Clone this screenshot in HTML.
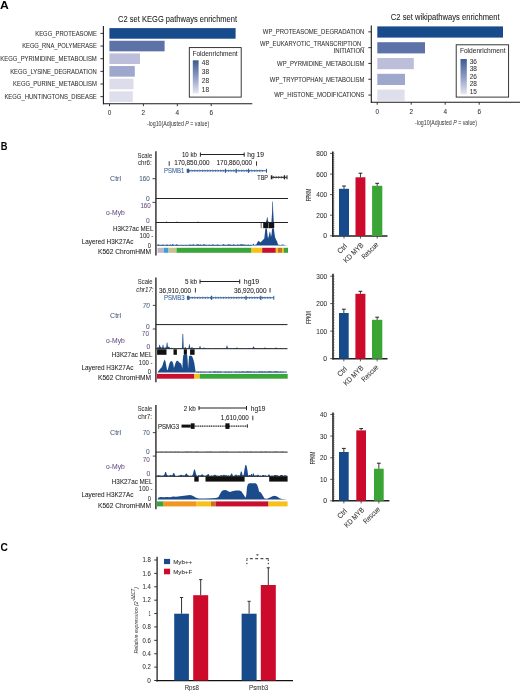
<!DOCTYPE html><html><head><meta charset="utf-8"><style>html,body{margin:0;padding:0;background:#fff;}svg{display:block;will-change:transform;}</style></head><body>
<svg width="520" height="691" viewBox="0 0 520 691" font-family='"Liberation Sans", sans-serif'>
<rect width="520" height="691" fill="#fff"/>
<text x="0" y="9.4" font-size="11.2" fill="#000" text-anchor="start" font-weight="bold" font-style="normal" textLength="8.8" lengthAdjust="spacingAndGlyphs">A</text>
<text x="0.8" y="149.6" font-size="11.4" fill="#000" text-anchor="start" font-weight="bold" font-style="normal" textLength="6.7" lengthAdjust="spacingAndGlyphs">B</text>
<text x="0.5" y="551.2" font-size="11.2" fill="#000" text-anchor="start" font-weight="bold" font-style="normal" textLength="7.4" lengthAdjust="spacingAndGlyphs">C</text>
<text x="118.1" y="21.9" font-size="8.2" fill="#222" text-anchor="start" font-weight="normal" font-style="normal" textLength="119" lengthAdjust="spacingAndGlyphs" stroke="#222" stroke-width="0.06">C2 set KEGG pathways enrichment</text>
<rect x="109.4" y="28.1" width="126.19999999999999" height="10.6" fill="#174b8b"/>
<text x="96.8" y="35.8" font-size="6.3" fill="#333" text-anchor="end" font-weight="normal" font-style="normal" textLength="61.5" lengthAdjust="spacingAndGlyphs" stroke="#333" stroke-width="0.06">KEGG_PROTEASOME</text>
<line x1="100.4" y1="33.4" x2="103.4" y2="33.4" stroke="#222" stroke-width="0.9"/>
<rect x="109.4" y="40.75" width="55.19999999999999" height="10.6" fill="#5d73a8"/>
<text x="96.8" y="48.0" font-size="6.3" fill="#333" text-anchor="end" font-weight="normal" font-style="normal" textLength="74.6" lengthAdjust="spacingAndGlyphs" stroke="#333" stroke-width="0.06">KEGG_RNA_POLYMERASE</text>
<line x1="100.4" y1="46.05" x2="103.4" y2="46.05" stroke="#222" stroke-width="0.9"/>
<rect x="109.4" y="53.400000000000006" width="30.599999999999994" height="10.6" fill="#bdbfda"/>
<text x="96.8" y="61.0" font-size="6.3" fill="#333" text-anchor="end" font-weight="normal" font-style="normal" textLength="96.5" lengthAdjust="spacingAndGlyphs" stroke="#333" stroke-width="0.06">KEGG_PYRIMIDINE_METABOLISM</text>
<line x1="100.4" y1="58.7" x2="103.4" y2="58.7" stroke="#222" stroke-width="0.9"/>
<rect x="109.4" y="66.05000000000001" width="25.400000000000006" height="10.6" fill="#9ea7cc"/>
<text x="96.8" y="73.6" font-size="6.3" fill="#333" text-anchor="end" font-weight="normal" font-style="normal" textLength="86.6" lengthAdjust="spacingAndGlyphs" stroke="#333" stroke-width="0.06">KEGG_LYSINE_DEGRADATION</text>
<line x1="100.4" y1="71.35000000000001" x2="103.4" y2="71.35000000000001" stroke="#222" stroke-width="0.9"/>
<rect x="109.4" y="78.7" width="24.099999999999994" height="10.6" fill="#dcdcea"/>
<text x="96.8" y="86.0" font-size="6.3" fill="#333" text-anchor="end" font-weight="normal" font-style="normal" textLength="83.7" lengthAdjust="spacingAndGlyphs" stroke="#333" stroke-width="0.06">KEGG_PURINE_METABOLISM</text>
<line x1="100.4" y1="84.0" x2="103.4" y2="84.0" stroke="#222" stroke-width="0.9"/>
<rect x="109.4" y="91.35" width="23.400000000000006" height="10.6" fill="#dedeec"/>
<text x="96.8" y="98.6" font-size="6.3" fill="#333" text-anchor="end" font-weight="normal" font-style="normal" textLength="92.4" lengthAdjust="spacingAndGlyphs" stroke="#333" stroke-width="0.06">KEGG_HUNTINGTONS_DISEASE</text>
<line x1="100.4" y1="96.64999999999999" x2="103.4" y2="96.64999999999999" stroke="#222" stroke-width="0.9"/>
<line x1="103.4" y1="26" x2="103.4" y2="104.3" stroke="#1a1a1a" stroke-width="1.1"/>
<line x1="103" y1="103.8" x2="252.3" y2="103.8" stroke="#1a1a1a" stroke-width="1.1"/>
<line x1="109.5" y1="103.8" x2="109.5" y2="106.2" stroke="#222" stroke-width="0.9"/>
<text x="109.5" y="115.2" font-size="6.4" fill="#333" text-anchor="middle" font-weight="normal" font-style="normal" stroke="#333" stroke-width="0.06">0</text>
<line x1="143.4" y1="103.8" x2="143.4" y2="106.2" stroke="#222" stroke-width="0.9"/>
<text x="143.4" y="115.2" font-size="6.4" fill="#333" text-anchor="middle" font-weight="normal" font-style="normal" stroke="#333" stroke-width="0.06">2</text>
<line x1="177.3" y1="103.8" x2="177.3" y2="106.2" stroke="#222" stroke-width="0.9"/>
<text x="177.3" y="115.2" font-size="6.4" fill="#333" text-anchor="middle" font-weight="normal" font-style="normal" stroke="#333" stroke-width="0.06">4</text>
<line x1="211.2" y1="103.8" x2="211.2" y2="106.2" stroke="#222" stroke-width="0.9"/>
<text x="211.2" y="115.2" font-size="6.4" fill="#333" text-anchor="middle" font-weight="normal" font-style="normal" stroke="#333" stroke-width="0.06">6</text>
<text x="146.9" y="126.4" font-size="6.3" fill="#333" textLength="62.3" lengthAdjust="spacingAndGlyphs">-log10(Adjusted <tspan font-style="italic">P</tspan> = value)</text>
<rect x="189.3" y="47.6" width="51.89999999999998" height="49.49999999999999" fill="#fff" stroke="#222" stroke-width="0.9"/>
<text x="192.4" y="55.6" font-size="6.7" fill="#333" text-anchor="start" font-weight="normal" font-style="normal" textLength="45.3" lengthAdjust="spacingAndGlyphs" stroke="#333" stroke-width="0.06">Foldenrichment</text>
<defs><linearGradient id="g189" x1="0" y1="0" x2="0" y2="1"><stop offset="0" stop-color="#3d5a8f"/><stop offset="0.5" stop-color="#8d9ac4"/><stop offset="1" stop-color="#e6e6f0"/></linearGradient></defs>
<rect x="192.8" y="60.3" width="5.799999999999983" height="33.0" fill="url(#g189)"/>
<text x="201.8" y="65.1" font-size="6.3" fill="#333" text-anchor="start" font-weight="normal" font-style="normal" textLength="7.2" lengthAdjust="spacingAndGlyphs" stroke="#333" stroke-width="0.06">48</text>
<text x="201.8" y="73.9" font-size="6.3" fill="#333" text-anchor="start" font-weight="normal" font-style="normal" textLength="7.2" lengthAdjust="spacingAndGlyphs" stroke="#333" stroke-width="0.06">38</text>
<text x="201.8" y="82.8" font-size="6.3" fill="#333" text-anchor="start" font-weight="normal" font-style="normal" textLength="7.2" lengthAdjust="spacingAndGlyphs" stroke="#333" stroke-width="0.06">28</text>
<text x="201.8" y="91.9" font-size="6.3" fill="#333" text-anchor="start" font-weight="normal" font-style="normal" textLength="7.2" lengthAdjust="spacingAndGlyphs" stroke="#333" stroke-width="0.06">18</text>
<text x="390.8" y="20.3" font-size="8.2" fill="#222" text-anchor="start" font-weight="normal" font-style="normal" textLength="108.9" lengthAdjust="spacingAndGlyphs" stroke="#222" stroke-width="0.06">C2 set wikipathways enrichment</text>
<rect x="377.3" y="26.4" width="125.69999999999999" height="11.2" fill="#174b8b"/>
<text x="364.4" y="34.0" font-size="6.3" fill="#333" text-anchor="end" font-weight="normal" font-style="normal" textLength="101.6" lengthAdjust="spacingAndGlyphs" stroke="#333" stroke-width="0.06">WP_PROTEASOME_DEGRADATION</text>
<line x1="368.3" y1="31.849999999999998" x2="371.3" y2="31.849999999999998" stroke="#222" stroke-width="0.9"/>
<rect x="377.3" y="42.2" width="47.69999999999999" height="11.2" fill="#5d73a8"/>
<text x="364.4" y="46.2" font-size="6.3" fill="#333" text-anchor="end" font-weight="normal" font-style="normal" textLength="104.4" lengthAdjust="spacingAndGlyphs" stroke="#333" stroke-width="0.06">WP_EUKARYOTIC_TRANSCRIPTION_</text>
<text x="364.4" y="53.3" font-size="6.3" fill="#333" text-anchor="end" font-weight="normal" font-style="normal" textLength="30.9" lengthAdjust="spacingAndGlyphs" stroke="#333" stroke-width="0.06">INITIATION</text>
<line x1="368.3" y1="47.650000000000006" x2="371.3" y2="47.650000000000006" stroke="#222" stroke-width="0.9"/>
<rect x="377.3" y="58.0" width="36.5" height="11.2" fill="#bdbfda"/>
<text x="364.4" y="66.0" font-size="6.3" fill="#333" text-anchor="end" font-weight="normal" font-style="normal" textLength="87.3" lengthAdjust="spacingAndGlyphs" stroke="#333" stroke-width="0.06">WP_PYRMIDINE_METABOLISM</text>
<line x1="368.3" y1="63.45" x2="371.3" y2="63.45" stroke="#222" stroke-width="0.9"/>
<rect x="377.3" y="73.80000000000001" width="27.69999999999999" height="11.2" fill="#9ea7cc"/>
<text x="364.4" y="81.5" font-size="6.3" fill="#333" text-anchor="end" font-weight="normal" font-style="normal" textLength="94.6" lengthAdjust="spacingAndGlyphs" stroke="#333" stroke-width="0.06">WP_TRYPTOPHAN_METABOLISM</text>
<line x1="368.3" y1="79.25000000000001" x2="371.3" y2="79.25000000000001" stroke="#222" stroke-width="0.9"/>
<rect x="377.3" y="89.6" width="27.30000000000001" height="11.2" fill="#dedeec"/>
<text x="364.4" y="97.1" font-size="6.3" fill="#333" text-anchor="end" font-weight="normal" font-style="normal" textLength="90.2" lengthAdjust="spacingAndGlyphs" stroke="#333" stroke-width="0.06">WP_HISTONE_MODIFICATIONS</text>
<line x1="368.3" y1="95.05" x2="371.3" y2="95.05" stroke="#222" stroke-width="0.9"/>
<line x1="371.3" y1="25.4" x2="371.3" y2="102.8" stroke="#1a1a1a" stroke-width="1.1"/>
<line x1="370.9" y1="102.3" x2="520" y2="102.3" stroke="#1a1a1a" stroke-width="1.1"/>
<line x1="377.2" y1="102.3" x2="377.2" y2="104.7" stroke="#222" stroke-width="0.9"/>
<text x="377.2" y="113.7" font-size="6.4" fill="#333" text-anchor="middle" font-weight="normal" font-style="normal" stroke="#333" stroke-width="0.06">0</text>
<line x1="411.2" y1="102.3" x2="411.2" y2="104.7" stroke="#222" stroke-width="0.9"/>
<text x="411.2" y="113.7" font-size="6.4" fill="#333" text-anchor="middle" font-weight="normal" font-style="normal" stroke="#333" stroke-width="0.06">2</text>
<line x1="445.2" y1="102.3" x2="445.2" y2="104.7" stroke="#222" stroke-width="0.9"/>
<text x="445.2" y="113.7" font-size="6.4" fill="#333" text-anchor="middle" font-weight="normal" font-style="normal" stroke="#333" stroke-width="0.06">4</text>
<line x1="479.2" y1="102.3" x2="479.2" y2="104.7" stroke="#222" stroke-width="0.9"/>
<text x="479.2" y="113.7" font-size="6.4" fill="#333" text-anchor="middle" font-weight="normal" font-style="normal" stroke="#333" stroke-width="0.06">6</text>
<text x="415" y="124.8" font-size="6.3" fill="#333" textLength="62" lengthAdjust="spacingAndGlyphs">-log10(Adjusted <tspan font-style="italic">P</tspan> = value)</text>
<rect x="456.2" y="44.8" width="52.400000000000034" height="52.3" fill="#fff" stroke="#222" stroke-width="0.9"/>
<text x="459.9" y="52.7" font-size="6.7" fill="#333" text-anchor="start" font-weight="normal" font-style="normal" textLength="45.6" lengthAdjust="spacingAndGlyphs" stroke="#333" stroke-width="0.06">Foldenrichment</text>
<defs><linearGradient id="g456" x1="0" y1="0" x2="0" y2="1"><stop offset="0" stop-color="#3d5a8f"/><stop offset="0.5" stop-color="#8d9ac4"/><stop offset="1" stop-color="#e6e6f0"/></linearGradient></defs>
<rect x="460.5" y="59" width="6.300000000000011" height="35.2" fill="url(#g456)"/>
<text x="469.7" y="63.6" font-size="6.3" fill="#333" text-anchor="start" font-weight="normal" font-style="normal" textLength="7.2" lengthAdjust="spacingAndGlyphs" stroke="#333" stroke-width="0.06">36</text>
<text x="469.7" y="71.4" font-size="6.3" fill="#333" text-anchor="start" font-weight="normal" font-style="normal" textLength="7.2" lengthAdjust="spacingAndGlyphs" stroke="#333" stroke-width="0.06">38</text>
<text x="469.7" y="79.0" font-size="6.3" fill="#333" text-anchor="start" font-weight="normal" font-style="normal" textLength="7.2" lengthAdjust="spacingAndGlyphs" stroke="#333" stroke-width="0.06">26</text>
<text x="469.7" y="86.4" font-size="6.3" fill="#333" text-anchor="start" font-weight="normal" font-style="normal" textLength="7.2" lengthAdjust="spacingAndGlyphs" stroke="#333" stroke-width="0.06">28</text>
<text x="469.7" y="94.2" font-size="6.3" fill="#333" text-anchor="start" font-weight="normal" font-style="normal" textLength="7.2" lengthAdjust="spacingAndGlyphs" stroke="#333" stroke-width="0.06">15</text>
<line x1="155.9" y1="151.2" x2="155.9" y2="255.4" stroke="#444" stroke-width="1.6"/>
<text x="152.2" y="157.5" font-size="6.8" fill="#333" text-anchor="end" font-weight="normal" font-style="normal" textLength="14.7" lengthAdjust="spacingAndGlyphs" stroke="#333" stroke-width="0.06">Scale</text>
<text x="151.6" y="165.3" font-size="6.8" fill="#333" text-anchor="end" font-weight="normal" font-style="normal" textLength="13.6" lengthAdjust="spacingAndGlyphs" stroke="#333" stroke-width="0.06">chr6:</text>
<text x="182" y="157.0" font-size="6.8" fill="#222" text-anchor="start" font-weight="normal" font-style="normal" textLength="14.8" lengthAdjust="spacingAndGlyphs" stroke="#222" stroke-width="0.06">10 kb</text>
<line x1="200.4" y1="154.5" x2="244.2" y2="154.5" stroke="#222" stroke-width="1.0"/>
<line x1="200.4" y1="152.5" x2="200.4" y2="156.7" stroke="#222" stroke-width="1.0"/>
<line x1="244.2" y1="152.5" x2="244.2" y2="156.7" stroke="#222" stroke-width="1.0"/>
<text x="247.3" y="157.0" font-size="6.8" fill="#222" text-anchor="start" font-weight="normal" font-style="normal" textLength="16.7" lengthAdjust="spacingAndGlyphs" stroke="#222" stroke-width="0.06">hg 19</text>
<line x1="169.2" y1="161.3" x2="169.2" y2="165.8" stroke="#222" stroke-width="0.9"/>
<text x="174.2" y="165.2" font-size="6.8" fill="#222" text-anchor="start" font-weight="normal" font-style="normal" textLength="35.4" lengthAdjust="spacingAndGlyphs" stroke="#222" stroke-width="0.06">170,850,000</text>
<text x="216.5" y="165.2" font-size="6.8" fill="#222" text-anchor="start" font-weight="normal" font-style="normal" textLength="35.7" lengthAdjust="spacingAndGlyphs" stroke="#222" stroke-width="0.06">170,860,000</text>
<line x1="256.5" y1="161.3" x2="256.5" y2="165.8" stroke="#222" stroke-width="0.9"/>
<text x="164" y="173.3" font-size="6.8" fill="#2f5d98" text-anchor="start" font-weight="normal" font-style="normal" textLength="20.2" lengthAdjust="spacingAndGlyphs" stroke="#2f5d98" stroke-width="0.06">PSMB1</text>
<line x1="187.5" y1="170.8" x2="266.5" y2="170.8" stroke="#2f5d98" stroke-width="1.1"/>
<line x1="187.5" y1="168.8" x2="187.5" y2="172.8" stroke="#2f5d98" stroke-width="1.6"/>
<line x1="266.5" y1="168.8" x2="266.5" y2="172.8" stroke="#2f5d98" stroke-width="1.0"/>
<line x1="188.5" y1="168.70000000000002" x2="188.5" y2="172.9" stroke="#2f5d98" stroke-width="1.2"/>
<line x1="225.5" y1="168.70000000000002" x2="225.5" y2="172.9" stroke="#2f5d98" stroke-width="1.2"/>
<line x1="236.2" y1="168.70000000000002" x2="236.2" y2="172.9" stroke="#2f5d98" stroke-width="1.2"/>
<line x1="248.5" y1="168.70000000000002" x2="248.5" y2="172.9" stroke="#2f5d98" stroke-width="1.2"/>
<path d="M189.0,169.8 L190.20000000000002,170.8 L189.0,171.8" fill="none" stroke="#2f5d98" stroke-width="0.7"/>
<path d="M191.6,169.8 L192.8,170.8 L191.6,171.8" fill="none" stroke="#2f5d98" stroke-width="0.7"/>
<path d="M194.2,169.8 L195.4,170.8 L194.2,171.8" fill="none" stroke="#2f5d98" stroke-width="0.7"/>
<path d="M196.79999999999998,169.8 L198.0,170.8 L196.79999999999998,171.8" fill="none" stroke="#2f5d98" stroke-width="0.7"/>
<path d="M199.39999999999998,169.8 L200.6,170.8 L199.39999999999998,171.8" fill="none" stroke="#2f5d98" stroke-width="0.7"/>
<path d="M201.99999999999997,169.8 L203.2,170.8 L201.99999999999997,171.8" fill="none" stroke="#2f5d98" stroke-width="0.7"/>
<path d="M204.59999999999997,169.8 L205.79999999999998,170.8 L204.59999999999997,171.8" fill="none" stroke="#2f5d98" stroke-width="0.7"/>
<path d="M207.19999999999996,169.8 L208.39999999999998,170.8 L207.19999999999996,171.8" fill="none" stroke="#2f5d98" stroke-width="0.7"/>
<path d="M209.79999999999995,169.8 L210.99999999999997,170.8 L209.79999999999995,171.8" fill="none" stroke="#2f5d98" stroke-width="0.7"/>
<path d="M212.39999999999995,169.8 L213.59999999999997,170.8 L212.39999999999995,171.8" fill="none" stroke="#2f5d98" stroke-width="0.7"/>
<path d="M214.99999999999994,169.8 L216.19999999999996,170.8 L214.99999999999994,171.8" fill="none" stroke="#2f5d98" stroke-width="0.7"/>
<path d="M217.59999999999994,169.8 L218.79999999999995,170.8 L217.59999999999994,171.8" fill="none" stroke="#2f5d98" stroke-width="0.7"/>
<path d="M220.19999999999993,169.8 L221.39999999999995,170.8 L220.19999999999993,171.8" fill="none" stroke="#2f5d98" stroke-width="0.7"/>
<path d="M222.79999999999993,169.8 L223.99999999999994,170.8 L222.79999999999993,171.8" fill="none" stroke="#2f5d98" stroke-width="0.7"/>
<path d="M225.39999999999992,169.8 L226.59999999999994,170.8 L225.39999999999992,171.8" fill="none" stroke="#2f5d98" stroke-width="0.7"/>
<path d="M227.99999999999991,169.8 L229.19999999999993,170.8 L227.99999999999991,171.8" fill="none" stroke="#2f5d98" stroke-width="0.7"/>
<path d="M230.5999999999999,169.8 L231.79999999999993,170.8 L230.5999999999999,171.8" fill="none" stroke="#2f5d98" stroke-width="0.7"/>
<path d="M233.1999999999999,169.8 L234.39999999999992,170.8 L233.1999999999999,171.8" fill="none" stroke="#2f5d98" stroke-width="0.7"/>
<path d="M235.7999999999999,169.8 L236.99999999999991,170.8 L235.7999999999999,171.8" fill="none" stroke="#2f5d98" stroke-width="0.7"/>
<path d="M238.3999999999999,169.8 L239.5999999999999,170.8 L238.3999999999999,171.8" fill="none" stroke="#2f5d98" stroke-width="0.7"/>
<path d="M240.9999999999999,169.8 L242.1999999999999,170.8 L240.9999999999999,171.8" fill="none" stroke="#2f5d98" stroke-width="0.7"/>
<path d="M243.59999999999988,169.8 L244.7999999999999,170.8 L243.59999999999988,171.8" fill="none" stroke="#2f5d98" stroke-width="0.7"/>
<path d="M246.19999999999987,169.8 L247.3999999999999,170.8 L246.19999999999987,171.8" fill="none" stroke="#2f5d98" stroke-width="0.7"/>
<path d="M248.79999999999987,169.8 L249.9999999999999,170.8 L248.79999999999987,171.8" fill="none" stroke="#2f5d98" stroke-width="0.7"/>
<path d="M251.39999999999986,169.8 L252.59999999999988,170.8 L251.39999999999986,171.8" fill="none" stroke="#2f5d98" stroke-width="0.7"/>
<path d="M253.99999999999986,169.8 L255.19999999999987,170.8 L253.99999999999986,171.8" fill="none" stroke="#2f5d98" stroke-width="0.7"/>
<path d="M256.5999999999999,169.8 L257.7999999999999,170.8 L256.5999999999999,171.8" fill="none" stroke="#2f5d98" stroke-width="0.7"/>
<path d="M259.19999999999993,169.8 L260.3999999999999,170.8 L259.19999999999993,171.8" fill="none" stroke="#2f5d98" stroke-width="0.7"/>
<path d="M261.79999999999995,169.8 L262.99999999999994,170.8 L261.79999999999995,171.8" fill="none" stroke="#2f5d98" stroke-width="0.7"/>
<text x="257.3" y="180.1" font-size="6.8" fill="#222" text-anchor="start" font-weight="normal" font-style="normal" textLength="10.7" lengthAdjust="spacingAndGlyphs" stroke="#222" stroke-width="0.06">TBP</text>
<line x1="271.6" y1="177.3" x2="287" y2="177.3" stroke="#222" stroke-width="1.0"/>
<line x1="271.6" y1="175.3" x2="271.6" y2="179.3" stroke="#222" stroke-width="1.6"/>
<line x1="287" y1="175.3" x2="287" y2="179.3" stroke="#222" stroke-width="1.0"/>
<line x1="284.5" y1="175.20000000000002" x2="284.5" y2="179.4" stroke="#222" stroke-width="1.2"/>
<path d="M273.1,176.3 L274.3,177.3 L273.1,178.3" fill="none" stroke="#222" stroke-width="0.7"/>
<path d="M275.70000000000005,176.3 L276.90000000000003,177.3 L275.70000000000005,178.3" fill="none" stroke="#222" stroke-width="0.7"/>
<path d="M278.30000000000007,176.3 L279.50000000000006,177.3 L278.30000000000007,178.3" fill="none" stroke="#222" stroke-width="0.7"/>
<path d="M280.9000000000001,176.3 L282.1000000000001,177.3 L280.9000000000001,178.3" fill="none" stroke="#222" stroke-width="0.7"/>
<path d="M283.5000000000001,176.3 L284.7000000000001,177.3 L283.5000000000001,178.3" fill="none" stroke="#222" stroke-width="0.7"/>
<text x="110.1" y="181.3" font-size="6.8" fill="#465d7d" text-anchor="start" font-weight="normal" font-style="normal" textLength="10.9" lengthAdjust="spacingAndGlyphs" stroke="#465d7d" stroke-width="0.06">Ctrl</text>
<text x="149.8" y="181.3" font-size="6.8" fill="#465d7d" text-anchor="end" font-weight="normal" font-style="normal" textLength="10.6" lengthAdjust="spacingAndGlyphs" stroke="#465d7d" stroke-width="0.06">160</text>
<line x1="152.5" y1="178.7" x2="155.9" y2="178.7" stroke="#333" stroke-width="0.9"/>
<text x="149.8" y="200.7" font-size="6.8" fill="#465d7d" text-anchor="end" font-weight="normal" font-style="normal" textLength="3.7" lengthAdjust="spacingAndGlyphs" stroke="#465d7d" stroke-width="0.06">0</text>
<line x1="155.9" y1="198.5" x2="288" y2="198.5" stroke="#222" stroke-width="1.0"/>
<text x="150.7" y="208.1" font-size="6.8" fill="#6a5285" text-anchor="end" font-weight="normal" font-style="normal" textLength="10.3" lengthAdjust="spacingAndGlyphs" stroke="#6a5285" stroke-width="0.06">160</text>
<line x1="152.5" y1="202.4" x2="155.9" y2="202.4" stroke="#333" stroke-width="0.9"/>
<text x="106" y="214.5" font-size="6.8" fill="#6a5285" text-anchor="start" font-weight="normal" font-style="normal" textLength="18.8" lengthAdjust="spacingAndGlyphs" stroke="#6a5285" stroke-width="0.06">o-Myb</text>
<text x="149.8" y="222.9" font-size="6.8" fill="#6a5285" text-anchor="end" font-weight="normal" font-style="normal" textLength="3.7" lengthAdjust="spacingAndGlyphs" stroke="#6a5285" stroke-width="0.06">0</text>
<path d="M165.7,222.5 L166.5,221.3 L167.3,222.5 Z" fill="#1b4b8a" stroke="none" stroke-width="1"/>
<path d="M176.2,222.5 L177,221.3 L177.8,222.5 Z" fill="#1b4b8a" stroke="none" stroke-width="1"/>
<path d="M197.2,222.5 L198,221.3 L198.8,222.5 Z" fill="#1b4b8a" stroke="none" stroke-width="1"/>
<path d="M265.6,222.5 L265.6,222.5 L266.6,220 L267.0,217.2 L267.5,217.2 L267.9,220 L268.7,222.5 L268.7,222.5 Z" fill="#1b4b8a" stroke="none" stroke-width="1"/>
<path d="M271.4,222.5 L271.4,222.5 L272.1,212 L272.4,201.5 L272.9,201.5 L273.2,212 L273.8,222.5 L273.8,222.5 Z" fill="#1b4b8a" stroke="none" stroke-width="1"/>
<line x1="155.9" y1="222.5" x2="288" y2="222.5" stroke="#222" stroke-width="1.0"/>
<text x="153.4" y="230.5" font-size="6.8" fill="#222" text-anchor="end" font-weight="normal" font-style="normal" textLength="40.3" lengthAdjust="spacingAndGlyphs" stroke="#222" stroke-width="0.06">H3K27ac MEL</text>
<rect x="263.2" y="222.9" width="4.8" height="5.3" fill="#111"/>
<rect x="268.4" y="222.9" width="5.8" height="5.3" fill="#111"/>
<line x1="261.2" y1="222.9" x2="261.2" y2="228.2" stroke="#111" stroke-width="0.6"/>
<text x="153.4" y="238.3" font-size="6.8" fill="#333" text-anchor="end" font-weight="normal" font-style="normal" textLength="13.9" lengthAdjust="spacingAndGlyphs" stroke="#333" stroke-width="0.06">100 -</text>
<text x="81.8" y="243.5" font-size="6.8" fill="#222" text-anchor="start" font-weight="normal" font-style="normal" textLength="51.6" lengthAdjust="spacingAndGlyphs" stroke="#222" stroke-width="0.06">Layered H3K27Ac</text>
<text x="151" y="247.5" font-size="6.8" fill="#333" text-anchor="end" font-weight="normal" font-style="normal" textLength="3.2" lengthAdjust="spacingAndGlyphs" stroke="#333" stroke-width="0.06">0</text>
<rect x="157" y="244.8" width="95" height="0.9" fill="#3b5c88"/>
<path d="M157,245.6 L157,245.41 L157.9,244.41 L158.8,244.53 L159.7,245.24 L160.6,244.91 L161.5,244.97 L162.4,244.69 L163.3,244.5 L164.2,245.47 L165.1,245.56 L166.0,244.43 L166.9,244.99 L167.8,244.53 L168.7,245.6 L169.6,244.98 L170.5,244.59 L171.4,245.28 L172.3,244.28 L173.2,244.34 L174.1,245.56 L175.0,245.56 L175.9,244.84 L176.8,244.29 L177.7,245.07 L178.6,245.3 L179.5,245.01 L180.4,245.56 L181.3,245.29 L182.2,244.99 L183.1,244.91 L184.0,245.27 L184.9,245.28 L185.8,245.29 L186.7,244.96 L187.6,245.19 L188.5,245.57 L189.4,244.43 L190.3,244.82 L191.2,244.7 L192.1,245.34 L193.0,244.21 L193.9,244.4 L194.8,245.43 L195.7,245.13 L196.6,244.59 L197.5,244.6 L198.4,244.29 L199.3,245.01 L200.2,244.44 L201.1,244.66 L202.0,245.18 L202.9,244.78 L203.8,244.36 L204.7,244.42 L205.6,244.89 L206.5,244.78 L207.4,245.55 L208.3,245.26 L209.2,244.48 L210.1,245.02 L211.0,245.36 L211.9,244.83 L212.8,244.62 L213.7,244.66 L214.6,245.08 L215.5,244.99 L216.4,244.89 L217.3,244.51 L218.2,244.87 L219.1,245.05 L220.0,244.91 L220.9,245.56 L221.8,245.54 L222.7,244.62 L223.6,244.22 L224.5,244.77 L225.4,245.05 L226.3,245.36 L227.2,244.9 L228.1,244.23 L229.0,244.52 L229.9,244.84 L230.8,244.4 L231.7,245.27 L232.6,244.88 L233.5,244.27 L234.4,244.79 L235.3,244.96 L236.2,245.22 L237.1,244.83 L238.0,244.26 L238.9,245.59 L239.8,244.5 L240.7,244.45 L241.6,244.36 L242.5,244.56 L243.4,244.47 L244.3,244.87 L245.2,244.81 L246.1,245.0 L247.0,245.52 L247.9,244.38 L248.8,244.8 L249.7,245.32 L250.6,244.89 L251.5,244.92 L251.5,245.6 Z" fill="#1b4b8a" stroke="none" stroke-width="1"/>
<path d="M252,245.6 L252,245.6 L253.3,243.4 L254.5,245 L256.5,244.3 L257.5,242.0 L258.9,240.8 L260,242.6 L261.5,241.5 L262.6,240.2 L264.3,238.5 L265.0,232 L265.4,228.5 L266.9,228.5 L267.3,233 L268.0,238.5 L268.8,236 L269.5,232.5 L269.9,231.4 L270.4,233 L271.0,237 L271.6,234 L272.1,228.5 L273.9,228.5 L274.3,232 L275,237 L276,239.5 L277.1,241.5 L278,244.5 L280,245 L283,244.4 L285,245.2 L288,245.6 L288,245.6 Z" fill="#1b4b8a" stroke="none" stroke-width="1"/>
<text x="151" y="253.5" font-size="6.8" fill="#222" text-anchor="end" font-weight="normal" font-style="normal" textLength="53" lengthAdjust="spacingAndGlyphs" stroke="#222" stroke-width="0.06">K562 ChromHMM</text>
<rect x="157.5" y="247.8" width="6.199999999999989" height="5.0" fill="#c9b3bd"/>
<rect x="163.7" y="247.8" width="4.800000000000011" height="5.0" fill="#3b9fd8"/>
<rect x="168.5" y="247.8" width="8.0" height="5.0" fill="#c6bf8e"/>
<rect x="176.5" y="247.8" width="75.0" height="5.0" fill="#3aa53a"/>
<rect x="251.5" y="247.8" width="10.699999999999989" height="5.0" fill="#f6c21a"/>
<rect x="262.2" y="247.8" width="13.600000000000023" height="5.0" fill="#c8102e"/>
<rect x="275.8" y="247.8" width="2.1999999999999886" height="5.0" fill="#f6c21a"/>
<rect x="278" y="247.8" width="4" height="5.0" fill="#c8741e"/>
<rect x="282" y="247.8" width="1.6999999999999886" height="5.0" fill="#f6c21a"/>
<rect x="283.7" y="247.8" width="4.300000000000011" height="5.0" fill="#3aa53a"/>
<line x1="155.9" y1="277.5" x2="155.9" y2="382.2" stroke="#444" stroke-width="1.6"/>
<text x="152.5" y="284.1" font-size="6.8" fill="#333" text-anchor="end" font-weight="normal" font-style="normal" textLength="14.7" lengthAdjust="spacingAndGlyphs" stroke="#333" stroke-width="0.06">Scale</text>
<text x="153.6" y="292.1" font-size="6.8" fill="#333" text-anchor="end" font-weight="normal" font-style="italic" textLength="17.3" lengthAdjust="spacingAndGlyphs" stroke="#333" stroke-width="0.06">chr17:</text>
<text x="185" y="284.0" font-size="6.8" fill="#222" text-anchor="start" font-weight="normal" font-style="normal" textLength="12.0" lengthAdjust="spacingAndGlyphs" stroke="#222" stroke-width="0.06">5 kb</text>
<line x1="200.0" y1="281.5" x2="239.7" y2="281.5" stroke="#222" stroke-width="1.0"/>
<line x1="200.0" y1="279.5" x2="200.0" y2="283.7" stroke="#222" stroke-width="1.0"/>
<line x1="239.7" y1="279.5" x2="239.7" y2="283.7" stroke="#222" stroke-width="1.0"/>
<text x="243.8" y="284.0" font-size="6.8" fill="#222" text-anchor="start" font-weight="normal" font-style="normal" textLength="15.4" lengthAdjust="spacingAndGlyphs" stroke="#222" stroke-width="0.06">hg19</text>
<text x="159" y="292.5" font-size="6.8" fill="#222" text-anchor="start" font-weight="normal" font-style="normal" textLength="32.2" lengthAdjust="spacingAndGlyphs" stroke="#222" stroke-width="0.06">36,910,000</text>
<line x1="195.4" y1="288.0" x2="195.4" y2="292.5" stroke="#222" stroke-width="0.9"/>
<text x="234" y="292.5" font-size="6.8" fill="#222" text-anchor="start" font-weight="normal" font-style="normal" textLength="32.5" lengthAdjust="spacingAndGlyphs" stroke="#222" stroke-width="0.06">36,920,000</text>
<line x1="270" y1="288.0" x2="270" y2="292.5" stroke="#222" stroke-width="0.9"/>
<text x="164" y="300.3" font-size="6.8" fill="#2f5d98" text-anchor="start" font-weight="normal" font-style="normal" textLength="20.6" lengthAdjust="spacingAndGlyphs" stroke="#2f5d98" stroke-width="0.06">PSMB3</text>
<line x1="187.7" y1="297.8" x2="273.8" y2="297.8" stroke="#2f5d98" stroke-width="1.1"/>
<line x1="187.7" y1="295.8" x2="187.7" y2="299.8" stroke="#2f5d98" stroke-width="1.6"/>
<line x1="273.8" y1="295.8" x2="273.8" y2="299.8" stroke="#2f5d98" stroke-width="1.0"/>
<line x1="188.8" y1="295.7" x2="188.8" y2="299.90000000000003" stroke="#2f5d98" stroke-width="1.2"/>
<line x1="211.5" y1="295.7" x2="211.5" y2="299.90000000000003" stroke="#2f5d98" stroke-width="1.2"/>
<line x1="246" y1="295.7" x2="246" y2="299.90000000000003" stroke="#2f5d98" stroke-width="1.2"/>
<line x1="260.8" y1="295.7" x2="260.8" y2="299.90000000000003" stroke="#2f5d98" stroke-width="1.2"/>
<path d="M189.2,296.8 L190.4,297.8 L189.2,298.8" fill="none" stroke="#2f5d98" stroke-width="0.7"/>
<path d="M191.79999999999998,296.8 L193.0,297.8 L191.79999999999998,298.8" fill="none" stroke="#2f5d98" stroke-width="0.7"/>
<path d="M194.39999999999998,296.8 L195.6,297.8 L194.39999999999998,298.8" fill="none" stroke="#2f5d98" stroke-width="0.7"/>
<path d="M196.99999999999997,296.8 L198.2,297.8 L196.99999999999997,298.8" fill="none" stroke="#2f5d98" stroke-width="0.7"/>
<path d="M199.59999999999997,296.8 L200.79999999999998,297.8 L199.59999999999997,298.8" fill="none" stroke="#2f5d98" stroke-width="0.7"/>
<path d="M202.19999999999996,296.8 L203.39999999999998,297.8 L202.19999999999996,298.8" fill="none" stroke="#2f5d98" stroke-width="0.7"/>
<path d="M204.79999999999995,296.8 L205.99999999999997,297.8 L204.79999999999995,298.8" fill="none" stroke="#2f5d98" stroke-width="0.7"/>
<path d="M207.39999999999995,296.8 L208.59999999999997,297.8 L207.39999999999995,298.8" fill="none" stroke="#2f5d98" stroke-width="0.7"/>
<path d="M209.99999999999994,296.8 L211.19999999999996,297.8 L209.99999999999994,298.8" fill="none" stroke="#2f5d98" stroke-width="0.7"/>
<path d="M212.59999999999994,296.8 L213.79999999999995,297.8 L212.59999999999994,298.8" fill="none" stroke="#2f5d98" stroke-width="0.7"/>
<path d="M215.19999999999993,296.8 L216.39999999999995,297.8 L215.19999999999993,298.8" fill="none" stroke="#2f5d98" stroke-width="0.7"/>
<path d="M217.79999999999993,296.8 L218.99999999999994,297.8 L217.79999999999993,298.8" fill="none" stroke="#2f5d98" stroke-width="0.7"/>
<path d="M220.39999999999992,296.8 L221.59999999999994,297.8 L220.39999999999992,298.8" fill="none" stroke="#2f5d98" stroke-width="0.7"/>
<path d="M222.99999999999991,296.8 L224.19999999999993,297.8 L222.99999999999991,298.8" fill="none" stroke="#2f5d98" stroke-width="0.7"/>
<path d="M225.5999999999999,296.8 L226.79999999999993,297.8 L225.5999999999999,298.8" fill="none" stroke="#2f5d98" stroke-width="0.7"/>
<path d="M228.1999999999999,296.8 L229.39999999999992,297.8 L228.1999999999999,298.8" fill="none" stroke="#2f5d98" stroke-width="0.7"/>
<path d="M230.7999999999999,296.8 L231.99999999999991,297.8 L230.7999999999999,298.8" fill="none" stroke="#2f5d98" stroke-width="0.7"/>
<path d="M233.3999999999999,296.8 L234.5999999999999,297.8 L233.3999999999999,298.8" fill="none" stroke="#2f5d98" stroke-width="0.7"/>
<path d="M235.9999999999999,296.8 L237.1999999999999,297.8 L235.9999999999999,298.8" fill="none" stroke="#2f5d98" stroke-width="0.7"/>
<path d="M238.59999999999988,296.8 L239.7999999999999,297.8 L238.59999999999988,298.8" fill="none" stroke="#2f5d98" stroke-width="0.7"/>
<path d="M241.19999999999987,296.8 L242.3999999999999,297.8 L241.19999999999987,298.8" fill="none" stroke="#2f5d98" stroke-width="0.7"/>
<path d="M243.79999999999987,296.8 L244.9999999999999,297.8 L243.79999999999987,298.8" fill="none" stroke="#2f5d98" stroke-width="0.7"/>
<path d="M246.39999999999986,296.8 L247.59999999999988,297.8 L246.39999999999986,298.8" fill="none" stroke="#2f5d98" stroke-width="0.7"/>
<path d="M248.99999999999986,296.8 L250.19999999999987,297.8 L248.99999999999986,298.8" fill="none" stroke="#2f5d98" stroke-width="0.7"/>
<path d="M251.59999999999985,296.8 L252.79999999999987,297.8 L251.59999999999985,298.8" fill="none" stroke="#2f5d98" stroke-width="0.7"/>
<path d="M254.19999999999985,296.8 L255.39999999999986,297.8 L254.19999999999985,298.8" fill="none" stroke="#2f5d98" stroke-width="0.7"/>
<path d="M256.7999999999999,296.8 L257.9999999999999,297.8 L256.7999999999999,298.8" fill="none" stroke="#2f5d98" stroke-width="0.7"/>
<path d="M259.3999999999999,296.8 L260.5999999999999,297.8 L259.3999999999999,298.8" fill="none" stroke="#2f5d98" stroke-width="0.7"/>
<path d="M261.99999999999994,296.8 L263.19999999999993,297.8 L261.99999999999994,298.8" fill="none" stroke="#2f5d98" stroke-width="0.7"/>
<path d="M264.59999999999997,296.8 L265.79999999999995,297.8 L264.59999999999997,298.8" fill="none" stroke="#2f5d98" stroke-width="0.7"/>
<path d="M267.2,296.8 L268.4,297.8 L267.2,298.8" fill="none" stroke="#2f5d98" stroke-width="0.7"/>
<path d="M269.8,296.8 L271.0,297.8 L269.8,298.8" fill="none" stroke="#2f5d98" stroke-width="0.7"/>
<text x="110.1" y="317.8" font-size="6.8" fill="#465d7d" text-anchor="start" font-weight="normal" font-style="normal" textLength="10.9" lengthAdjust="spacingAndGlyphs" stroke="#465d7d" stroke-width="0.06">Ctrl</text>
<text x="149.8" y="307.7" font-size="6.8" fill="#465d7d" text-anchor="end" font-weight="normal" font-style="italic" textLength="7.1" lengthAdjust="spacingAndGlyphs" stroke="#465d7d" stroke-width="0.06">70</text>
<line x1="152.8" y1="305.4" x2="155.9" y2="305.4" stroke="#333" stroke-width="0.9"/>
<text x="149.8" y="328.5" font-size="6.8" fill="#465d7d" text-anchor="end" font-weight="normal" font-style="normal" textLength="3.7" lengthAdjust="spacingAndGlyphs" stroke="#465d7d" stroke-width="0.06">0</text>
<path d="M157,324.6 L157,324.29 L158.3,324.23 L159.6,324.2 L160.9,324.13 L162.2,324.23 L163.5,324.14 L164.8,324.59 L166.1,324.37 L167.4,324.13 L168.7,324.28 L170.0,324.15 L171.3,324.54 L172.6,324.37 L173.9,324.48 L175.2,324.33 L176.5,324.31 L177.8,324.59 L179.1,324.49 L180.4,324.46 L181.7,324.14 L183.0,324.22 L184.3,324.52 L185.6,324.2 L186.9,324.53 L188.2,324.29 L189.5,324.54 L190.8,324.6 L192.1,324.16 L193.4,324.5 L194.7,324.49 L196.0,324.11 L197.3,324.16 L198.6,324.46 L199.9,324.12 L201.2,324.33 L202.5,324.26 L203.8,324.5 L205.1,324.13 L206.4,324.25 L207.7,324.12 L209.0,324.15 L210.3,324.45 L211.6,324.42 L212.9,324.52 L214.2,324.53 L215.5,324.57 L216.8,324.45 L218.1,324.3 L219.4,324.6 L220.7,324.26 L222.0,324.43 L223.3,324.45 L224.6,324.19 L225.9,324.36 L227.2,324.44 L228.5,324.36 L229.8,324.25 L231.1,324.57 L232.4,324.11 L233.7,324.59 L235.0,324.23 L236.3,324.18 L237.6,324.59 L238.9,324.21 L240.2,324.42 L241.5,324.31 L242.8,324.6 L244.1,324.58 L245.4,324.51 L246.7,324.12 L248.0,324.5 L249.3,324.22 L250.6,324.14 L251.9,324.13 L253.2,324.43 L254.5,324.42 L255.8,324.34 L257.1,324.21 L258.4,324.55 L259.7,324.23 L261.0,324.2 L262.3,324.17 L263.6,324.58 L264.9,324.13 L266.2,324.55 L267.5,324.43 L268.8,324.29 L270.1,324.14 L271.4,324.43 L272.7,324.14 L274.0,324.33 L275.3,324.44 L276.6,324.44 L277.9,324.51 L279.2,324.56 L280.5,324.53 L281.8,324.26 L283.1,324.1 L284.4,324.52 L285.7,324.58 L285.7,324.6 Z" fill="#1b4b8a" stroke="none" stroke-width="1"/>
<line x1="155.9" y1="324.6" x2="287.5" y2="324.6" stroke="#222" stroke-width="1.0"/>
<text x="149.0" y="336.3" font-size="6.8" fill="#6a5285" text-anchor="end" font-weight="normal" font-style="normal" textLength="7.2" lengthAdjust="spacingAndGlyphs" stroke="#6a5285" stroke-width="0.06">70</text>
<line x1="152.8" y1="329.0" x2="155.9" y2="329.0" stroke="#333" stroke-width="0.9"/>
<text x="106" y="342.6" font-size="6.8" fill="#6a5285" text-anchor="start" font-weight="normal" font-style="normal" textLength="18.8" lengthAdjust="spacingAndGlyphs" stroke="#6a5285" stroke-width="0.06">o-Myb</text>
<text x="150.3" y="349.2" font-size="6.8" fill="#6a5285" text-anchor="end" font-weight="normal" font-style="normal" textLength="3.8" lengthAdjust="spacingAndGlyphs" stroke="#6a5285" stroke-width="0.06">0</text>
<path d="M157,348.6 L157,348.24 L157.6,347.08 L158.2,347.2 L158.8,347.55 L159.4,348.12 L160.0,346.86 L160.6,346.82 L161.2,347.47 L161.8,347.49 L162.4,348.08 L163.0,348.59 L163.6,347.78 L164.2,347.31 L164.8,348.45 L165.4,346.85 L166.0,348.09 L166.6,348.09 L167.2,348.51 L167.8,346.41 L168.4,346.97 L169.0,346.67 L169.6,347.25 L170.2,348.53 L170.8,347.88 L171.4,347.51 L172.0,348.35 L172.0,348.6 Z" fill="#1b4b8a" stroke="none" stroke-width="1"/>
<path d="M172,348.6 L172,347.93 L173.0,348.5 L174.0,348.58 L175.0,347.9 L176.0,348.47 L177.0,348.52 L178.0,348.14 L179.0,348.36 L180.0,347.98 L181.0,348.44 L182.0,347.93 L183.0,348.38 L184.0,348.18 L185.0,347.95 L186.0,348.12 L187.0,347.95 L188.0,348.1 L189.0,348.57 L190.0,347.98 L191.0,348.19 L192.0,348.38 L193.0,348.47 L194.0,348.01 L195.0,348.19 L196.0,347.94 L197.0,348.06 L198.0,347.93 L199.0,348.2 L200.0,348.11 L201.0,348.17 L202.0,348.42 L203.0,347.93 L204.0,348.38 L205.0,348.05 L206.0,347.93 L207.0,348.14 L208.0,348.5 L209.0,348.02 L210.0,348.13 L211.0,348.47 L212.0,348.57 L213.0,348.23 L214.0,348.58 L215.0,347.95 L216.0,348.25 L217.0,348.24 L218.0,348.31 L219.0,348.14 L220.0,347.96 L221.0,348.38 L222.0,348.34 L223.0,348.19 L224.0,348.39 L225.0,348.18 L226.0,348.22 L227.0,348.3 L228.0,348.13 L229.0,348.23 L230.0,348.54 L231.0,347.9 L232.0,348.35 L233.0,348.3 L234.0,348.32 L235.0,347.95 L236.0,347.93 L237.0,348.24 L238.0,348.32 L239.0,348.53 L240.0,347.97 L241.0,348.48 L242.0,348.22 L243.0,348.36 L244.0,348.37 L245.0,348.35 L246.0,348.47 L247.0,348.57 L248.0,348.23 L249.0,348.04 L250.0,348.15 L251.0,348.46 L252.0,348.11 L253.0,348.56 L254.0,348.31 L255.0,348.02 L256.0,347.96 L257.0,348.28 L258.0,348.01 L259.0,348.25 L260.0,348.23 L261.0,348.19 L262.0,347.91 L263.0,348.08 L264.0,348.27 L265.0,348.09 L266.0,348.15 L267.0,348.35 L268.0,348.05 L269.0,348.03 L270.0,348.17 L271.0,347.94 L272.0,348.59 L273.0,348.25 L274.0,348.16 L275.0,348.36 L276.0,348.48 L277.0,348.12 L278.0,348.3 L279.0,348.41 L280.0,348.57 L281.0,347.92 L282.0,348.35 L283.0,348.52 L284.0,348.45 L285.0,348.42 L286.0,347.99 L287.0,348.47 L287.0,348.6 Z" fill="#1b4b8a" stroke="none" stroke-width="1"/>
<path d="M158.6,348.6 L158.6,348.6 L159.35,344.8 L159.85,344.8 L160.6,348.6 L160.6,348.6 Z" fill="#1b4b8a" stroke="none" stroke-width="1"/>
<path d="M162.0,348.6 L162.0,348.6 L162.75,344.8 L163.25,344.8 L164.0,348.6 L164.0,348.6 Z" fill="#1b4b8a" stroke="none" stroke-width="1"/>
<path d="M166.0,348.6 L166.0,348.6 L166.85,342.40000000000003 L167.35,342.40000000000003 L168.2,348.6 L168.2,348.6 Z" fill="#1b4b8a" stroke="none" stroke-width="1"/>
<path d="M184.29999999999998,348.6 L184.29999999999998,348.6 L184.95,347.0 L185.45,347.0 L186.1,348.6 L186.1,348.6 Z" fill="#1b4b8a" stroke="none" stroke-width="1"/>
<path d="M188.4,348.6 L188.4,348.6 L189.15,344.3 L189.65,344.3 L190.4,348.6 L190.4,348.6 Z" fill="#1b4b8a" stroke="none" stroke-width="1"/>
<path d="M191,348.6 L191,348.6 L191.75,347.1 L192.25,347.1 L193,348.6 L193,348.6 Z" fill="#1b4b8a" stroke="none" stroke-width="1"/>
<path d="M199.0,348.6 L199.0,348.6 L199.75,346.0 L200.25,346.0 L201.0,348.6 L201.0,348.6 Z" fill="#1b4b8a" stroke="none" stroke-width="1"/>
<path d="M203,348.6 L203,348.6 L203.75,347.40000000000003 L204.25,347.40000000000003 L205,348.6 L205,348.6 Z" fill="#1b4b8a" stroke="none" stroke-width="1"/>
<path d="M226.0,348.6 L226.0,348.6 L226.75,345.40000000000003 L227.25,345.40000000000003 L228.0,348.6 L228.0,348.6 Z" fill="#1b4b8a" stroke="none" stroke-width="1"/>
<path d="M235.8,348.6 L235.8,348.6 L236.75,347.40000000000003 L237.25,347.40000000000003 L238.2,348.6 L238.2,348.6 Z" fill="#1b4b8a" stroke="none" stroke-width="1"/>
<path d="M252.3,348.6 L252.3,348.6 L253.25,346.6 L253.75,346.6 L254.7,348.6 L254.7,348.6 Z" fill="#1b4b8a" stroke="none" stroke-width="1"/>
<path d="M263.8,348.6 L263.8,348.6 L264.75,347.6 L265.25,347.6 L266.2,348.6 L266.2,348.6 Z" fill="#1b4b8a" stroke="none" stroke-width="1"/>
<path d="M274.8,348.6 L274.8,348.6 L275.75,347.6 L276.25,347.6 L277.2,348.6 L277.2,348.6 Z" fill="#1b4b8a" stroke="none" stroke-width="1"/>
<path d="M182.0,348.6 L182.0,348.6 L182.3,340 L182.5,334.0 L183.2,334.0 L183.4,340 L183.7,348.6 L183.7,348.6 Z" fill="#1b4b8a" stroke="none" stroke-width="1"/>
<line x1="155.9" y1="348.7" x2="287.5" y2="348.7" stroke="#222" stroke-width="1.0"/>
<text x="152.6" y="356.9" font-size="6.8" fill="#222" text-anchor="end" font-weight="normal" font-style="normal" textLength="40.8" lengthAdjust="spacingAndGlyphs" stroke="#222" stroke-width="0.06">H3K27ac MEL</text>
<rect x="157.1" y="349.3" width="9.400000000000006" height="5.5" fill="#111"/>
<rect x="173.5" y="349.3" width="3.4000000000000057" height="5.5" fill="#111"/>
<rect x="183.8" y="349.3" width="3.0999999999999943" height="5.5" fill="#111"/>
<rect x="190.1" y="349.3" width="4.5" height="5.5" fill="#111"/>
<text x="152.6" y="364.6" font-size="6.8" fill="#333" text-anchor="end" font-weight="normal" font-style="normal" textLength="13.8" lengthAdjust="spacingAndGlyphs" stroke="#333" stroke-width="0.06">100 -</text>
<text x="81.4" y="370.0" font-size="6.8" fill="#222" text-anchor="start" font-weight="normal" font-style="normal" textLength="52.0" lengthAdjust="spacingAndGlyphs" stroke="#222" stroke-width="0.06">Layered H3K27Ac</text>
<text x="151" y="373.8" font-size="6.8" fill="#333" text-anchor="end" font-weight="normal" font-style="normal" textLength="3.2" lengthAdjust="spacingAndGlyphs" stroke="#333" stroke-width="0.06">0</text>
<path d="M157.5,372.4 L157.5,372.4 L158.5,371 L160,369 L161.5,367.5 L162.5,365.5 L163.5,362 L164.6,359.4 L165.5,361.5 L166.3,366 L167.2,370.5 L168,369 L169,365 L170,362 L171.3,361.0 L172.5,361.8 L173.3,364 L173.9,368 L174.6,366 L175.5,363 L176.5,361 L177.3,360.7 L178.5,361.5 L179.5,362.8 L181,363.5 L181.8,366 L182.3,369 L182.8,360 L183.3,355 L187.2,355 L187.6,360 L188.1,369 L188.6,362 L189.1,356 L191,355.6 L192.2,356.5 L193.2,359 L194.3,363 L195.2,369 L195.8,372.4 L195.8,372.4 Z" fill="#1b4b8a" stroke="none" stroke-width="1"/>
<rect x="196" y="371.5" width="91" height="0.9" fill="#3b5c88"/>
<path d="M196,372.4 L196,372.01 L197.1,372.22 L198.2,371.62 L199.3,372.31 L200.4,371.76 L201.5,371.96 L202.6,372.33 L203.7,371.79 L204.8,372.36 L205.9,371.88 L207.0,372.32 L208.1,372.29 L209.2,371.89 L210.3,371.41 L211.4,372.25 L212.5,372.13 L213.6,371.65 L214.7,371.26 L215.8,371.71 L216.9,371.92 L218.0,371.23 L219.1,372.34 L220.2,371.37 L221.3,372.05 L222.4,372.23 L223.5,372.26 L224.6,372.03 L225.7,371.42 L226.8,372.18 L227.9,371.7 L229.0,371.63 L230.1,371.95 L231.2,371.74 L232.3,372.32 L233.4,372.33 L234.5,372.15 L235.6,371.58 L236.7,371.89 L237.8,372.02 L238.9,371.7 L240.0,371.86 L241.1,372.04 L242.2,371.45 L243.3,371.56 L244.4,372.11 L245.5,371.71 L246.6,371.77 L247.7,371.35 L248.8,371.52 L249.9,372.05 L251.0,371.22 L252.1,372.26 L253.2,371.9 L254.3,371.49 L255.4,372.22 L256.5,371.81 L257.6,372.35 L258.7,371.6 L259.8,371.48 L260.9,371.71 L262.0,371.35 L263.1,372.02 L264.2,371.57 L265.3,371.69 L266.4,371.7 L267.5,371.85 L268.6,371.39 L269.7,371.27 L270.8,371.83 L271.9,371.6 L273.0,372.33 L274.1,371.56 L275.2,371.62 L276.3,371.21 L277.4,371.41 L278.5,372.06 L279.6,371.94 L280.7,371.6 L281.8,372.37 L282.9,371.85 L284.0,372.2 L285.1,372.26 L286.2,372.33 L286.2,372.4 Z" fill="#1b4b8a" stroke="none" stroke-width="1"/>
<text x="151" y="380.3" font-size="6.8" fill="#222" text-anchor="end" font-weight="normal" font-style="normal" textLength="53" lengthAdjust="spacingAndGlyphs" stroke="#222" stroke-width="0.06">K562 ChromHMM</text>
<rect x="157" y="373.9" width="37.400000000000006" height="4.800000000000011" fill="#c8102e"/>
<rect x="194.4" y="373.9" width="5.299999999999983" height="4.800000000000011" fill="#f6c21a"/>
<rect x="199.7" y="373.9" width="88.0" height="4.800000000000011" fill="#3aa53a"/>
<line x1="155.9" y1="404.9" x2="155.9" y2="509.2" stroke="#444" stroke-width="1.6"/>
<text x="152.1" y="411.2" font-size="6.8" fill="#333" text-anchor="end" font-weight="normal" font-style="normal" textLength="14.3" lengthAdjust="spacingAndGlyphs" stroke="#333" stroke-width="0.06">Scale</text>
<text x="152.1" y="419.0" font-size="6.8" fill="#333" text-anchor="end" font-weight="normal" font-style="normal" textLength="14.1" lengthAdjust="spacingAndGlyphs" stroke="#333" stroke-width="0.06">chr7:</text>
<text x="183.8" y="410.5" font-size="6.8" fill="#222" text-anchor="start" font-weight="normal" font-style="normal" textLength="12.0" lengthAdjust="spacingAndGlyphs" stroke="#222" stroke-width="0.06">2 kb</text>
<line x1="199.0" y1="408.0" x2="246.5" y2="408.0" stroke="#222" stroke-width="1.0"/>
<line x1="199.0" y1="406.0" x2="199.0" y2="410.2" stroke="#222" stroke-width="1.0"/>
<line x1="246.5" y1="406.0" x2="246.5" y2="410.2" stroke="#222" stroke-width="1.0"/>
<text x="250.8" y="410.5" font-size="6.8" fill="#222" text-anchor="start" font-weight="normal" font-style="normal" textLength="14.6" lengthAdjust="spacingAndGlyphs" stroke="#222" stroke-width="0.06">hg19</text>
<text x="220.8" y="420.2" font-size="6.8" fill="#222" text-anchor="start" font-weight="normal" font-style="normal" textLength="28.0" lengthAdjust="spacingAndGlyphs" stroke="#222" stroke-width="0.06">1,610,000</text>
<line x1="252.8" y1="415.7" x2="252.8" y2="420.2" stroke="#222" stroke-width="0.9"/>
<text x="158" y="428.8" font-size="6.8" fill="#111" text-anchor="start" font-weight="normal" font-style="normal" textLength="21.2" lengthAdjust="spacingAndGlyphs" stroke="#111" stroke-width="0.06">PSMG3</text>
<line x1="194.6" y1="426.1" x2="247.4" y2="426.1" stroke="#222" stroke-width="1.2" stroke-dasharray="1.2 0.6"/>
<rect x="181.5" y="424.6" width="9.3" height="3.0" fill="#111"/>
<rect x="190.8" y="423.3" width="3.8" height="5.6" fill="#111"/>
<rect x="225.4" y="423.3" width="4.1" height="5.6" fill="#111"/>
<line x1="247.4" y1="424.2" x2="247.4" y2="427.8" stroke="#222" stroke-width="0.9"/>
<text x="110.1" y="434.9" font-size="6.8" fill="#465d7d" text-anchor="start" font-weight="normal" font-style="normal" textLength="10.9" lengthAdjust="spacingAndGlyphs" stroke="#465d7d" stroke-width="0.06">Ctrl</text>
<text x="149.8" y="434.9" font-size="6.8" fill="#465d7d" text-anchor="end" font-weight="normal" font-style="normal" textLength="7.1" lengthAdjust="spacingAndGlyphs" stroke="#465d7d" stroke-width="0.06">70</text>
<line x1="152.8" y1="432.6" x2="155.9" y2="432.6" stroke="#333" stroke-width="0.9"/>
<text x="149.8" y="454.4" font-size="6.8" fill="#465d7d" text-anchor="end" font-weight="normal" font-style="normal" textLength="3.7" lengthAdjust="spacingAndGlyphs" stroke="#465d7d" stroke-width="0.06">0</text>
<path d="M157,452.1 L157,451.91 L158.5,451.95 L160.0,452.04 L161.5,451.75 L163.0,452.1 L164.5,451.9 L166.0,451.74 L167.5,452.07 L169.0,451.88 L170.5,451.85 L172.0,452.08 L173.5,451.95 L175.0,451.82 L176.5,451.92 L178.0,451.81 L179.5,452.04 L181.0,452.0 L182.5,452.06 L184.0,451.9 L185.5,451.73 L187.0,451.86 L188.5,451.79 L190.0,451.95 L191.5,451.8 L193.0,452.06 L194.5,451.98 L196.0,451.83 L197.5,451.81 L199.0,451.93 L200.5,452.06 L202.0,451.99 L203.5,452.02 L205.0,451.99 L206.5,451.78 L208.0,452.02 L209.5,451.75 L211.0,451.75 L212.5,452.08 L214.0,451.95 L215.5,451.9 L217.0,452.09 L218.5,451.93 L220.0,451.74 L221.5,452.06 L223.0,451.86 L224.5,452.05 L226.0,451.87 L227.5,451.74 L229.0,452.02 L230.5,452.1 L232.0,452.07 L233.5,451.88 L235.0,452.09 L236.5,452.07 L238.0,451.9 L239.5,451.73 L241.0,451.93 L242.5,451.94 L244.0,451.84 L245.5,452.06 L247.0,451.87 L248.5,452.03 L250.0,451.86 L251.5,451.72 L253.0,452.08 L254.5,451.88 L256.0,451.86 L257.5,452.04 L259.0,451.99 L260.5,451.7 L262.0,451.7 L263.5,452.05 L265.0,451.82 L266.5,451.72 L268.0,452.01 L269.5,451.86 L271.0,452.08 L272.5,451.95 L274.0,451.83 L275.5,451.86 L277.0,451.79 L278.5,452.07 L280.0,451.96 L281.5,451.75 L283.0,451.87 L284.5,451.92 L286.0,451.94 L286.0,452.1 Z" fill="#1b4b8a" stroke="none" stroke-width="1"/>
<line x1="155.9" y1="452.1" x2="287.6" y2="452.1" stroke="#222" stroke-width="1.0"/>
<text x="149.8" y="461.9" font-size="6.8" fill="#6a5285" text-anchor="end" font-weight="normal" font-style="normal" textLength="7.1" lengthAdjust="spacingAndGlyphs" stroke="#6a5285" stroke-width="0.06">70</text>
<line x1="152.8" y1="456.1" x2="155.9" y2="456.1" stroke="#333" stroke-width="0.9"/>
<text x="106" y="468.8" font-size="6.8" fill="#6a5285" text-anchor="start" font-weight="normal" font-style="normal" textLength="18.8" lengthAdjust="spacingAndGlyphs" stroke="#6a5285" stroke-width="0.06">o-Myb</text>
<text x="150.3" y="476.0" font-size="6.8" fill="#6a5285" text-anchor="end" font-weight="normal" font-style="normal" textLength="3.8" lengthAdjust="spacingAndGlyphs" stroke="#6a5285" stroke-width="0.06">0</text>
<path d="M157,476.2 L157,475.61 L157.8,475.47 L158.6,475.0 L159.4,475.59 L160.2,475.54 L161.0,475.44 L161.8,475.96 L162.6,475.53 L163.4,475.38 L164.2,475.17 L165.0,476.08 L165.8,475.81 L166.6,476.08 L167.4,475.15 L168.2,475.3 L169.0,476.15 L169.8,474.92 L170.6,474.95 L171.4,475.35 L172.2,475.4 L173.0,476.0 L173.8,476.18 L174.6,475.51 L175.4,476.12 L176.2,475.95 L177.0,475.89 L177.8,476.16 L178.6,475.6 L179.4,475.63 L180.2,475.1 L181.0,475.53 L181.8,475.37 L182.6,475.55 L183.4,475.34 L184.2,475.61 L185.0,475.84 L185.8,474.9 L186.6,474.91 L187.4,475.11 L188.2,475.28 L189.0,475.79 L189.8,475.9 L190.6,475.82 L191.4,476.11 L192.2,475.2 L193.0,475.68 L193.8,475.1 L194.6,475.7 L195.4,474.95 L196.2,475.1 L197.0,476.2 L197.8,475.93 L198.6,475.02 L199.4,475.59 L200.2,474.93 L201.0,475.68 L201.8,476.11 L202.6,475.38 L203.4,475.19 L204.2,475.85 L205.0,476.09 L205.8,475.77 L206.6,474.95 L207.4,475.21 L208.2,476.05 L209.0,475.88 L209.8,476.07 L210.6,476.12 L211.4,475.16 L212.2,475.97 L213.0,475.47 L213.8,475.62 L214.6,475.95 L215.4,475.25 L216.2,476.03 L217.0,475.36 L217.8,476.05 L218.6,475.65 L219.4,475.92 L220.2,475.85 L221.0,474.94 L221.8,475.16 L222.6,475.8 L223.4,475.05 L224.2,475.93 L225.0,475.69 L225.8,475.09 L226.6,475.37 L227.4,476.07 L228.2,474.91 L229.0,475.92 L229.8,475.86 L230.6,475.2 L231.4,475.77 L232.2,475.81 L233.0,476.1 L233.8,476.08 L234.6,475.44 L235.4,475.88 L236.2,475.42 L237.0,475.72 L237.8,475.61 L238.6,474.95 L239.4,475.57 L240.2,475.45 L241.0,475.07 L241.8,475.96 L242.6,476.0 L243.4,475.02 L244.2,475.14 L245.0,475.88 L245.8,475.95 L246.6,475.24 L247.4,474.98 L248.2,475.94 L249.0,474.96 L249.8,475.05 L250.6,475.42 L251.4,475.65 L252.2,476.07 L253.0,476.15 L253.8,474.95 L254.6,475.89 L255.4,475.28 L256.2,475.87 L257.0,475.13 L257.8,475.42 L258.6,475.82 L259.4,475.97 L260.2,475.26 L261.0,476.11 L261.8,475.9 L262.6,475.47 L263.4,475.09 L264.2,475.4 L265.0,475.84 L265.8,475.01 L266.6,475.93 L267.4,476.18 L268.2,475.85 L269.0,475.62 L269.8,476.12 L270.6,475.97 L271.4,475.72 L272.2,475.46 L273.0,476.03 L273.8,475.73 L274.6,475.04 L275.4,474.93 L276.2,475.35 L277.0,475.3 L277.8,475.44 L278.6,476.02 L279.4,476.15 L280.2,476.18 L281.0,475.02 L281.8,475.29 L282.6,474.95 L283.4,476.17 L284.2,475.37 L285.0,475.57 L285.8,475.25 L286.6,475.79 L286.6,476.2 Z" fill="#1b4b8a" stroke="none" stroke-width="1"/>
<path d="M163.79999999999998,476.2 L163.79999999999998,476.2 L165.2,472.0 L166.0,472.0 L167.4,476.2 L167.4,476.2 Z" fill="#1b4b8a" stroke="none" stroke-width="1"/>
<path d="M171.89999999999998,476.2 L171.89999999999998,476.2 L173.29999999999998,472.9 L174.1,472.9 L175.5,476.2 L175.5,476.2 Z" fill="#1b4b8a" stroke="none" stroke-width="1"/>
<path d="M179.5,476.2 L179.5,476.2 L180.6,474.7 L181.4,474.7 L182.5,476.2 L182.5,476.2 Z" fill="#1b4b8a" stroke="none" stroke-width="1"/>
<path d="M184.3,476.2 L184.3,476.2 L185.9,473.59999999999997 L186.70000000000002,473.59999999999997 L188.3,476.2 L188.3,476.2 Z" fill="#1b4b8a" stroke="none" stroke-width="1"/>
<path d="M192.3,476.2 L192.3,476.2 L194.1,469.4 L194.9,469.4 L196.7,476.2 L196.7,476.2 Z" fill="#1b4b8a" stroke="none" stroke-width="1"/>
<path d="M200.6,476.2 L200.6,476.2 L201.7,474.2 L202.5,474.2 L203.6,476.2 L203.6,476.2 Z" fill="#1b4b8a" stroke="none" stroke-width="1"/>
<path d="M206.6,476.2 L206.6,476.2 L207.79999999999998,474.0 L208.6,474.0 L209.79999999999998,476.2 L209.79999999999998,476.2 Z" fill="#1b4b8a" stroke="none" stroke-width="1"/>
<path d="M213.4,476.2 L213.4,476.2 L214.6,474.8 L215.4,474.8 L216.6,476.2 L216.6,476.2 Z" fill="#1b4b8a" stroke="none" stroke-width="1"/>
<path d="M222.6,476.2 L222.6,476.2 L223.6,474.7 L224.4,474.7 L225.4,476.2 L225.4,476.2 Z" fill="#1b4b8a" stroke="none" stroke-width="1"/>
<path d="M230.2,476.2 L230.2,476.2 L231.2,473.4 L232.0,473.4 L233.0,476.2 L233.0,476.2 Z" fill="#1b4b8a" stroke="none" stroke-width="1"/>
<path d="M234.8,476.2 L234.8,476.2 L235.6,474.4 L236.4,474.4 L237.2,476.2 L237.2,476.2 Z" fill="#1b4b8a" stroke="none" stroke-width="1"/>
<path d="M239.70000000000002,476.2 L239.70000000000002,476.2 L240.9,471.4 L241.70000000000002,471.4 L242.9,476.2 L242.9,476.2 Z" fill="#1b4b8a" stroke="none" stroke-width="1"/>
<path d="M250.4,476.2 L250.4,476.2 L251.2,474.0 L252.0,474.0 L252.79999999999998,476.2 L252.79999999999998,476.2 Z" fill="#1b4b8a" stroke="none" stroke-width="1"/>
<path d="M252.3,476.2 L252.3,476.2 L253.0,473.59999999999997 L253.8,473.59999999999997 L254.5,476.2 L254.5,476.2 Z" fill="#1b4b8a" stroke="none" stroke-width="1"/>
<path d="M256.5,476.2 L256.5,476.2 L257.6,474.8 L258.4,474.8 L259.5,476.2 L259.5,476.2 Z" fill="#1b4b8a" stroke="none" stroke-width="1"/>
<path d="M261.5,476.2 L261.5,476.2 L262.6,475.0 L263.4,475.0 L264.5,476.2 L264.5,476.2 Z" fill="#1b4b8a" stroke="none" stroke-width="1"/>
<path d="M267.6,476.2 L267.6,476.2 L268.6,474.59999999999997 L269.4,474.59999999999997 L270.4,476.2 L270.4,476.2 Z" fill="#1b4b8a" stroke="none" stroke-width="1"/>
<path d="M273.6,476.2 L273.6,476.2 L274.6,475.2 L275.4,475.2 L276.4,476.2 L276.4,476.2 Z" fill="#1b4b8a" stroke="none" stroke-width="1"/>
<path d="M279.6,476.2 L279.6,476.2 L280.6,475.0 L281.4,475.0 L282.4,476.2 L282.4,476.2 Z" fill="#1b4b8a" stroke="none" stroke-width="1"/>
<path d="M243.5,476.2 L243.5,476.2 L244.4,470 L245.3,465.0 L246.5,465.4 L247.4,470 L248.3,476.2 L248.3,476.2 Z" fill="#1b4b8a" stroke="none" stroke-width="1"/>
<line x1="155.9" y1="476.3" x2="287.6" y2="476.3" stroke="#222" stroke-width="1.0"/>
<text x="152.6" y="484.2" font-size="6.8" fill="#222" text-anchor="end" font-weight="normal" font-style="normal" textLength="40.8" lengthAdjust="spacingAndGlyphs" stroke="#222" stroke-width="0.06">H3K27ac MEL</text>
<rect x="194.3" y="476.6" width="4.399999999999977" height="5.0" fill="#111"/>
<rect x="205.5" y="476.6" width="39.099999999999994" height="5.0" fill="#111"/>
<rect x="269.2" y="476.6" width="18.400000000000034" height="5.0" fill="#111"/>
<text x="152.6" y="491.4" font-size="6.8" fill="#333" text-anchor="end" font-weight="normal" font-style="normal" textLength="13.8" lengthAdjust="spacingAndGlyphs" stroke="#333" stroke-width="0.06">100 -</text>
<text x="81.4" y="496.9" font-size="6.8" fill="#222" text-anchor="start" font-weight="normal" font-style="normal" textLength="52.0" lengthAdjust="spacingAndGlyphs" stroke="#222" stroke-width="0.06">Layered H3K27Ac</text>
<text x="151" y="500.6" font-size="6.8" fill="#333" text-anchor="end" font-weight="normal" font-style="normal" textLength="3.2" lengthAdjust="spacingAndGlyphs" stroke="#333" stroke-width="0.06">0</text>
<path d="M157.5,499.4 L157.5,499.4 L158.5,497.5 L161,497 L164,497.3 L167,496.9 L170,497.2 L173,496.6 L176,496.8 L180,496.2 L184,495.8 L188,495.3 L190,495.0 L192,495.5 L194,496.5 L196,497.8 L199,498.4 L205,498.5 L212,498.3 L216,498.0 L218.5,497 L220,494 L221.5,491.5 L223,490.3 L226,490.0 L228,491.2 L230,492.0 L233,491.0 L236,490.6 L239.5,490.4 L241.5,491.5 L243.5,494.5 L245.5,497.8 L246.3,495 L247.0,487 L248,484 L249.5,483.3 L255.5,483.3 L257,484.5 L258.3,488 L259,491.5 L260.5,492.3 L261.5,493.5 L263,496 L264.5,498.5 L267,498.8 L270,497.5 L272.5,496.2 L274.5,495.8 L277,496.5 L279.5,498.2 L282,499 L287.5,499.4 L287.5,499.4 Z" fill="#1b4b8a" stroke="none" stroke-width="1"/>
<text x="151" y="507.7" font-size="6.8" fill="#222" text-anchor="end" font-weight="normal" font-style="normal" textLength="53" lengthAdjust="spacingAndGlyphs" stroke="#222" stroke-width="0.06">K562 ChromHMM</text>
<rect x="157" y="501.4" width="6.599999999999994" height="5.0" fill="#3aa53a"/>
<rect x="163.6" y="501.4" width="33.0" height="5.0" fill="#f0961e"/>
<rect x="196.6" y="501.4" width="14.400000000000006" height="5.0" fill="#f6c21a"/>
<rect x="211" y="501.4" width="4.800000000000011" height="5.0" fill="#c8741e"/>
<rect x="215.8" y="501.4" width="52.69999999999999" height="5.0" fill="#c8102e"/>
<rect x="268.5" y="501.4" width="19.100000000000023" height="5.0" fill="#f6c21a"/>
<line x1="333.40000000000003" y1="153.4" x2="334.40000000000003" y2="153.4" stroke="#333" stroke-width="0.55"/>
<line x1="333.40000000000003" y1="155.46" x2="334.40000000000003" y2="155.46" stroke="#333" stroke-width="0.55"/>
<line x1="333.40000000000003" y1="157.52" x2="334.40000000000003" y2="157.52" stroke="#333" stroke-width="0.55"/>
<line x1="333.40000000000003" y1="159.58" x2="334.40000000000003" y2="159.58" stroke="#333" stroke-width="0.55"/>
<line x1="333.40000000000003" y1="161.64" x2="334.40000000000003" y2="161.64" stroke="#333" stroke-width="0.55"/>
<line x1="333.40000000000003" y1="163.7" x2="334.40000000000003" y2="163.7" stroke="#333" stroke-width="0.55"/>
<line x1="333.40000000000003" y1="165.76" x2="334.40000000000003" y2="165.76" stroke="#333" stroke-width="0.55"/>
<line x1="333.40000000000003" y1="167.82" x2="334.40000000000003" y2="167.82" stroke="#333" stroke-width="0.55"/>
<line x1="333.40000000000003" y1="169.88" x2="334.40000000000003" y2="169.88" stroke="#333" stroke-width="0.55"/>
<line x1="333.40000000000003" y1="171.94" x2="334.40000000000003" y2="171.94" stroke="#333" stroke-width="0.55"/>
<line x1="333.40000000000003" y1="174.0" x2="334.40000000000003" y2="174.0" stroke="#333" stroke-width="0.55"/>
<line x1="333.40000000000003" y1="176.06" x2="334.40000000000003" y2="176.06" stroke="#333" stroke-width="0.55"/>
<line x1="333.40000000000003" y1="178.12" x2="334.40000000000003" y2="178.12" stroke="#333" stroke-width="0.55"/>
<line x1="333.40000000000003" y1="180.18" x2="334.40000000000003" y2="180.18" stroke="#333" stroke-width="0.55"/>
<line x1="333.40000000000003" y1="182.24" x2="334.40000000000003" y2="182.24" stroke="#333" stroke-width="0.55"/>
<line x1="333.40000000000003" y1="184.3" x2="334.40000000000003" y2="184.3" stroke="#333" stroke-width="0.55"/>
<line x1="333.40000000000003" y1="186.36" x2="334.40000000000003" y2="186.36" stroke="#333" stroke-width="0.55"/>
<line x1="333.40000000000003" y1="188.42" x2="334.40000000000003" y2="188.42" stroke="#333" stroke-width="0.55"/>
<line x1="333.40000000000003" y1="190.48" x2="334.40000000000003" y2="190.48" stroke="#333" stroke-width="0.55"/>
<line x1="333.40000000000003" y1="192.54" x2="334.40000000000003" y2="192.54" stroke="#333" stroke-width="0.55"/>
<line x1="333.40000000000003" y1="194.6" x2="334.40000000000003" y2="194.6" stroke="#333" stroke-width="0.55"/>
<line x1="333.40000000000003" y1="196.66" x2="334.40000000000003" y2="196.66" stroke="#333" stroke-width="0.55"/>
<line x1="333.40000000000003" y1="198.72" x2="334.40000000000003" y2="198.72" stroke="#333" stroke-width="0.55"/>
<line x1="333.40000000000003" y1="200.78" x2="334.40000000000003" y2="200.78" stroke="#333" stroke-width="0.55"/>
<line x1="333.40000000000003" y1="202.84" x2="334.40000000000003" y2="202.84" stroke="#333" stroke-width="0.55"/>
<line x1="333.40000000000003" y1="204.9" x2="334.40000000000003" y2="204.9" stroke="#333" stroke-width="0.55"/>
<line x1="333.40000000000003" y1="206.96" x2="334.40000000000003" y2="206.96" stroke="#333" stroke-width="0.55"/>
<line x1="333.40000000000003" y1="209.02" x2="334.40000000000003" y2="209.02" stroke="#333" stroke-width="0.55"/>
<line x1="333.40000000000003" y1="211.08" x2="334.40000000000003" y2="211.08" stroke="#333" stroke-width="0.55"/>
<line x1="333.40000000000003" y1="213.14" x2="334.40000000000003" y2="213.14" stroke="#333" stroke-width="0.55"/>
<line x1="333.40000000000003" y1="215.2" x2="334.40000000000003" y2="215.2" stroke="#333" stroke-width="0.55"/>
<line x1="333.40000000000003" y1="217.26" x2="334.40000000000003" y2="217.26" stroke="#333" stroke-width="0.55"/>
<line x1="333.40000000000003" y1="219.32" x2="334.40000000000003" y2="219.32" stroke="#333" stroke-width="0.55"/>
<line x1="333.40000000000003" y1="221.38" x2="334.40000000000003" y2="221.38" stroke="#333" stroke-width="0.55"/>
<line x1="333.40000000000003" y1="223.44" x2="334.40000000000003" y2="223.44" stroke="#333" stroke-width="0.55"/>
<line x1="333.40000000000003" y1="225.5" x2="334.40000000000003" y2="225.5" stroke="#333" stroke-width="0.55"/>
<line x1="333.40000000000003" y1="227.56" x2="334.40000000000003" y2="227.56" stroke="#333" stroke-width="0.55"/>
<line x1="333.40000000000003" y1="229.62" x2="334.40000000000003" y2="229.62" stroke="#333" stroke-width="0.55"/>
<line x1="333.40000000000003" y1="231.68" x2="334.40000000000003" y2="231.68" stroke="#333" stroke-width="0.55"/>
<line x1="333.40000000000003" y1="233.74" x2="334.40000000000003" y2="233.74" stroke="#333" stroke-width="0.55"/>
<line x1="333.40000000000003" y1="235.8" x2="334.40000000000003" y2="235.8" stroke="#333" stroke-width="0.55"/>
<line x1="332.8" y1="151.5" x2="332.8" y2="236.8" stroke="#222" stroke-width="1.6"/>
<line x1="332.2" y1="236.0" x2="387.5" y2="236.0" stroke="#222" stroke-width="1.6"/>
<line x1="330.0" y1="153.4" x2="332.8" y2="153.4" stroke="#333" stroke-width="0.8"/>
<text x="327.1" y="155.8" font-size="6.7" fill="#333" text-anchor="end" font-weight="normal" font-style="normal" textLength="10.8" lengthAdjust="spacingAndGlyphs" stroke="#333" stroke-width="0.06">800</text>
<line x1="330.0" y1="174.1" x2="332.8" y2="174.1" stroke="#333" stroke-width="0.8"/>
<text x="327.1" y="176.5" font-size="6.7" fill="#333" text-anchor="end" font-weight="normal" font-style="normal" textLength="10.8" lengthAdjust="spacingAndGlyphs" stroke="#333" stroke-width="0.06">600</text>
<line x1="330.0" y1="194.6" x2="332.8" y2="194.6" stroke="#333" stroke-width="0.8"/>
<text x="327.1" y="197.0" font-size="6.7" fill="#333" text-anchor="end" font-weight="normal" font-style="normal" textLength="10.8" lengthAdjust="spacingAndGlyphs" stroke="#333" stroke-width="0.06">400</text>
<line x1="330.0" y1="215.2" x2="332.8" y2="215.2" stroke="#333" stroke-width="0.8"/>
<text x="327.1" y="217.6" font-size="6.7" fill="#333" text-anchor="end" font-weight="normal" font-style="normal" textLength="10.8" lengthAdjust="spacingAndGlyphs" stroke="#333" stroke-width="0.06">200</text>
<line x1="330.0" y1="235.8" x2="332.8" y2="235.8" stroke="#333" stroke-width="0.8"/>
<text x="327.1" y="238.20000000000002" font-size="6.7" fill="#333" text-anchor="end" font-weight="normal" font-style="normal" textLength="3.8" lengthAdjust="spacingAndGlyphs" stroke="#333" stroke-width="0.06">0</text>
<text x="309.2" y="195.0" font-size="6.3" fill="#333" text-anchor="middle" font-weight="normal" font-style="normal" textLength="12.6" lengthAdjust="spacingAndGlyphs" stroke="#333" stroke-width="0.06" transform="rotate(-90 309.2 195.0)" dy="2.3">FPKM</text>
<rect x="339.0" y="188.8" width="10.0" height="47.19999999999999" fill="#174a8a"/>
<line x1="344.0" y1="186.0" x2="344.0" y2="188.8" stroke="#222" stroke-width="0.9"/>
<line x1="342.1" y1="186.0" x2="345.9" y2="186.0" stroke="#222" stroke-width="1.0"/>
<line x1="344.0" y1="236.0" x2="344.0" y2="238.6" stroke="#333" stroke-width="0.8"/>
<text x="347.6" y="246.8" font-size="7.4" fill="#333" text-anchor="end" font-weight="normal" font-style="normal" textLength="10.3" lengthAdjust="spacingAndGlyphs" stroke="#333" stroke-width="0.06" transform="rotate(-45 347.6 246.8)">Ctrl</text>
<rect x="355.5" y="177.3" width="9.899999999999977" height="58.69999999999999" fill="#cc0a2c"/>
<line x1="360.45" y1="173.2" x2="360.45" y2="177.3" stroke="#222" stroke-width="0.9"/>
<line x1="358.55" y1="173.2" x2="362.34999999999997" y2="173.2" stroke="#222" stroke-width="1.0"/>
<line x1="360.45" y1="236.0" x2="360.45" y2="238.6" stroke="#333" stroke-width="0.8"/>
<text x="364.05" y="245.6" font-size="7.4" fill="#333" text-anchor="end" font-weight="normal" font-style="normal" textLength="25.0" lengthAdjust="spacingAndGlyphs" stroke="#333" stroke-width="0.06" transform="rotate(-45 364.05 245.6)">KD MYB</text>
<rect x="372.1" y="185.8" width="10.199999999999989" height="50.19999999999999" fill="#3aa535"/>
<line x1="377.20000000000005" y1="183.3" x2="377.20000000000005" y2="185.8" stroke="#222" stroke-width="0.9"/>
<line x1="375.30000000000007" y1="183.3" x2="379.1" y2="183.3" stroke="#222" stroke-width="1.0"/>
<line x1="377.20000000000005" y1="236.0" x2="377.20000000000005" y2="238.6" stroke="#333" stroke-width="0.8"/>
<text x="378.9000000000001" y="245.0" font-size="7.4" fill="#333" text-anchor="end" font-weight="normal" font-style="normal" textLength="20.5" lengthAdjust="spacingAndGlyphs" stroke="#333" stroke-width="0.06" transform="rotate(-45 378.9000000000001 245.0)">Rescue</text>
<line x1="333.6" y1="276.2" x2="334.6" y2="276.2" stroke="#333" stroke-width="0.55"/>
<line x1="333.6" y1="278.95" x2="334.6" y2="278.95" stroke="#333" stroke-width="0.55"/>
<line x1="333.6" y1="281.69" x2="334.6" y2="281.69" stroke="#333" stroke-width="0.55"/>
<line x1="333.6" y1="284.44" x2="334.6" y2="284.44" stroke="#333" stroke-width="0.55"/>
<line x1="333.6" y1="287.19" x2="334.6" y2="287.19" stroke="#333" stroke-width="0.55"/>
<line x1="333.6" y1="289.93" x2="334.6" y2="289.93" stroke="#333" stroke-width="0.55"/>
<line x1="333.6" y1="292.68" x2="334.6" y2="292.68" stroke="#333" stroke-width="0.55"/>
<line x1="333.6" y1="295.43" x2="334.6" y2="295.43" stroke="#333" stroke-width="0.55"/>
<line x1="333.6" y1="298.17" x2="334.6" y2="298.17" stroke="#333" stroke-width="0.55"/>
<line x1="333.6" y1="300.92" x2="334.6" y2="300.92" stroke="#333" stroke-width="0.55"/>
<line x1="333.6" y1="303.67" x2="334.6" y2="303.67" stroke="#333" stroke-width="0.55"/>
<line x1="333.6" y1="306.41" x2="334.6" y2="306.41" stroke="#333" stroke-width="0.55"/>
<line x1="333.6" y1="309.16" x2="334.6" y2="309.16" stroke="#333" stroke-width="0.55"/>
<line x1="333.6" y1="311.91" x2="334.6" y2="311.91" stroke="#333" stroke-width="0.55"/>
<line x1="333.6" y1="314.65" x2="334.6" y2="314.65" stroke="#333" stroke-width="0.55"/>
<line x1="333.6" y1="317.4" x2="334.6" y2="317.4" stroke="#333" stroke-width="0.55"/>
<line x1="333.6" y1="320.15" x2="334.6" y2="320.15" stroke="#333" stroke-width="0.55"/>
<line x1="333.6" y1="322.89" x2="334.6" y2="322.89" stroke="#333" stroke-width="0.55"/>
<line x1="333.6" y1="325.64" x2="334.6" y2="325.64" stroke="#333" stroke-width="0.55"/>
<line x1="333.6" y1="328.39" x2="334.6" y2="328.39" stroke="#333" stroke-width="0.55"/>
<line x1="333.6" y1="331.13" x2="334.6" y2="331.13" stroke="#333" stroke-width="0.55"/>
<line x1="333.6" y1="333.88" x2="334.6" y2="333.88" stroke="#333" stroke-width="0.55"/>
<line x1="333.6" y1="336.63" x2="334.6" y2="336.63" stroke="#333" stroke-width="0.55"/>
<line x1="333.6" y1="339.37" x2="334.6" y2="339.37" stroke="#333" stroke-width="0.55"/>
<line x1="333.6" y1="342.12" x2="334.6" y2="342.12" stroke="#333" stroke-width="0.55"/>
<line x1="333.6" y1="344.87" x2="334.6" y2="344.87" stroke="#333" stroke-width="0.55"/>
<line x1="333.6" y1="347.61" x2="334.6" y2="347.61" stroke="#333" stroke-width="0.55"/>
<line x1="333.6" y1="350.36" x2="334.6" y2="350.36" stroke="#333" stroke-width="0.55"/>
<line x1="333.6" y1="353.11" x2="334.6" y2="353.11" stroke="#333" stroke-width="0.55"/>
<line x1="333.6" y1="355.85" x2="334.6" y2="355.85" stroke="#333" stroke-width="0.55"/>
<line x1="333.6" y1="358.6" x2="334.6" y2="358.6" stroke="#333" stroke-width="0.55"/>
<line x1="333.0" y1="273.7" x2="333.0" y2="359.6" stroke="#222" stroke-width="1.6"/>
<line x1="332.4" y1="358.8" x2="387.5" y2="358.8" stroke="#222" stroke-width="1.6"/>
<line x1="330.2" y1="276.2" x2="333.0" y2="276.2" stroke="#333" stroke-width="0.8"/>
<text x="327.1" y="278.59999999999997" font-size="6.7" fill="#333" text-anchor="end" font-weight="normal" font-style="normal" textLength="10.8" lengthAdjust="spacingAndGlyphs" stroke="#333" stroke-width="0.06">300</text>
<line x1="330.2" y1="303.6" x2="333.0" y2="303.6" stroke="#333" stroke-width="0.8"/>
<text x="327.1" y="306.0" font-size="6.7" fill="#333" text-anchor="end" font-weight="normal" font-style="normal" textLength="10.8" lengthAdjust="spacingAndGlyphs" stroke="#333" stroke-width="0.06">200</text>
<line x1="330.2" y1="331.1" x2="333.0" y2="331.1" stroke="#333" stroke-width="0.8"/>
<text x="327.1" y="333.5" font-size="6.7" fill="#333" text-anchor="end" font-weight="normal" font-style="normal" textLength="10.8" lengthAdjust="spacingAndGlyphs" stroke="#333" stroke-width="0.06">100</text>
<line x1="330.2" y1="358.6" x2="333.0" y2="358.6" stroke="#333" stroke-width="0.8"/>
<text x="327.1" y="361.0" font-size="6.7" fill="#333" text-anchor="end" font-weight="normal" font-style="normal" textLength="3.8" lengthAdjust="spacingAndGlyphs" stroke="#333" stroke-width="0.06">0</text>
<text x="309.0" y="317.4" font-size="6.3" fill="#333" text-anchor="middle" font-weight="normal" font-style="normal" textLength="12.6" lengthAdjust="spacingAndGlyphs" stroke="#333" stroke-width="0.06" transform="rotate(-90 309.0 317.4)" dy="2.3">FPKM</text>
<rect x="339.0" y="313.0" width="9.699999999999989" height="45.80000000000001" fill="#174a8a"/>
<line x1="343.85" y1="309.2" x2="343.85" y2="313.0" stroke="#222" stroke-width="0.9"/>
<line x1="341.95000000000005" y1="309.2" x2="345.75" y2="309.2" stroke="#222" stroke-width="1.0"/>
<line x1="343.85" y1="358.8" x2="343.85" y2="361.40000000000003" stroke="#333" stroke-width="0.8"/>
<text x="347.45000000000005" y="369.6" font-size="7.4" fill="#333" text-anchor="end" font-weight="normal" font-style="normal" textLength="10.3" lengthAdjust="spacingAndGlyphs" stroke="#333" stroke-width="0.06" transform="rotate(-45 347.45000000000005 369.6)">Ctrl</text>
<rect x="355.4" y="293.8" width="10.0" height="65.0" fill="#cc0a2c"/>
<line x1="360.4" y1="291.3" x2="360.4" y2="293.8" stroke="#222" stroke-width="0.9"/>
<line x1="358.5" y1="291.3" x2="362.29999999999995" y2="291.3" stroke="#222" stroke-width="1.0"/>
<line x1="360.4" y1="358.8" x2="360.4" y2="361.40000000000003" stroke="#333" stroke-width="0.8"/>
<text x="364.0" y="368.40000000000003" font-size="7.4" fill="#333" text-anchor="end" font-weight="normal" font-style="normal" textLength="25.0" lengthAdjust="spacingAndGlyphs" stroke="#333" stroke-width="0.06" transform="rotate(-45 364.0 368.40000000000003)">KD MYB</text>
<rect x="372.0" y="319.8" width="10.300000000000011" height="39.0" fill="#3aa535"/>
<line x1="377.15" y1="317.2" x2="377.15" y2="319.8" stroke="#222" stroke-width="0.9"/>
<line x1="375.25" y1="317.2" x2="379.04999999999995" y2="317.2" stroke="#222" stroke-width="1.0"/>
<line x1="377.15" y1="358.8" x2="377.15" y2="361.40000000000003" stroke="#333" stroke-width="0.8"/>
<text x="378.85" y="367.8" font-size="7.4" fill="#333" text-anchor="end" font-weight="normal" font-style="normal" textLength="20.5" lengthAdjust="spacingAndGlyphs" stroke="#333" stroke-width="0.06" transform="rotate(-45 378.85 367.8)">Rescue</text>
<line x1="333.6" y1="414.4" x2="334.6" y2="414.4" stroke="#333" stroke-width="0.55"/>
<line x1="333.6" y1="416.56" x2="334.6" y2="416.56" stroke="#333" stroke-width="0.55"/>
<line x1="333.6" y1="418.72" x2="334.6" y2="418.72" stroke="#333" stroke-width="0.55"/>
<line x1="333.6" y1="420.88" x2="334.6" y2="420.88" stroke="#333" stroke-width="0.55"/>
<line x1="333.6" y1="423.04" x2="334.6" y2="423.04" stroke="#333" stroke-width="0.55"/>
<line x1="333.6" y1="425.2" x2="334.6" y2="425.2" stroke="#333" stroke-width="0.55"/>
<line x1="333.6" y1="427.36" x2="334.6" y2="427.36" stroke="#333" stroke-width="0.55"/>
<line x1="333.6" y1="429.52" x2="334.6" y2="429.52" stroke="#333" stroke-width="0.55"/>
<line x1="333.6" y1="431.68" x2="334.6" y2="431.68" stroke="#333" stroke-width="0.55"/>
<line x1="333.6" y1="433.84" x2="334.6" y2="433.84" stroke="#333" stroke-width="0.55"/>
<line x1="333.6" y1="436.0" x2="334.6" y2="436.0" stroke="#333" stroke-width="0.55"/>
<line x1="333.6" y1="438.16" x2="334.6" y2="438.16" stroke="#333" stroke-width="0.55"/>
<line x1="333.6" y1="440.32" x2="334.6" y2="440.32" stroke="#333" stroke-width="0.55"/>
<line x1="333.6" y1="442.48" x2="334.6" y2="442.48" stroke="#333" stroke-width="0.55"/>
<line x1="333.6" y1="444.64" x2="334.6" y2="444.64" stroke="#333" stroke-width="0.55"/>
<line x1="333.6" y1="446.8" x2="334.6" y2="446.8" stroke="#333" stroke-width="0.55"/>
<line x1="333.6" y1="448.96" x2="334.6" y2="448.96" stroke="#333" stroke-width="0.55"/>
<line x1="333.6" y1="451.12" x2="334.6" y2="451.12" stroke="#333" stroke-width="0.55"/>
<line x1="333.6" y1="453.28" x2="334.6" y2="453.28" stroke="#333" stroke-width="0.55"/>
<line x1="333.6" y1="455.44" x2="334.6" y2="455.44" stroke="#333" stroke-width="0.55"/>
<line x1="333.6" y1="457.6" x2="334.6" y2="457.6" stroke="#333" stroke-width="0.55"/>
<line x1="333.6" y1="459.76" x2="334.6" y2="459.76" stroke="#333" stroke-width="0.55"/>
<line x1="333.6" y1="461.92" x2="334.6" y2="461.92" stroke="#333" stroke-width="0.55"/>
<line x1="333.6" y1="464.08" x2="334.6" y2="464.08" stroke="#333" stroke-width="0.55"/>
<line x1="333.6" y1="466.24" x2="334.6" y2="466.24" stroke="#333" stroke-width="0.55"/>
<line x1="333.6" y1="468.4" x2="334.6" y2="468.4" stroke="#333" stroke-width="0.55"/>
<line x1="333.6" y1="470.56" x2="334.6" y2="470.56" stroke="#333" stroke-width="0.55"/>
<line x1="333.6" y1="472.72" x2="334.6" y2="472.72" stroke="#333" stroke-width="0.55"/>
<line x1="333.6" y1="474.88" x2="334.6" y2="474.88" stroke="#333" stroke-width="0.55"/>
<line x1="333.6" y1="477.04" x2="334.6" y2="477.04" stroke="#333" stroke-width="0.55"/>
<line x1="333.6" y1="479.2" x2="334.6" y2="479.2" stroke="#333" stroke-width="0.55"/>
<line x1="333.6" y1="481.36" x2="334.6" y2="481.36" stroke="#333" stroke-width="0.55"/>
<line x1="333.6" y1="483.52" x2="334.6" y2="483.52" stroke="#333" stroke-width="0.55"/>
<line x1="333.6" y1="485.68" x2="334.6" y2="485.68" stroke="#333" stroke-width="0.55"/>
<line x1="333.6" y1="487.84" x2="334.6" y2="487.84" stroke="#333" stroke-width="0.55"/>
<line x1="333.6" y1="490.0" x2="334.6" y2="490.0" stroke="#333" stroke-width="0.55"/>
<line x1="333.6" y1="492.16" x2="334.6" y2="492.16" stroke="#333" stroke-width="0.55"/>
<line x1="333.6" y1="494.32" x2="334.6" y2="494.32" stroke="#333" stroke-width="0.55"/>
<line x1="333.6" y1="496.48" x2="334.6" y2="496.48" stroke="#333" stroke-width="0.55"/>
<line x1="333.6" y1="498.64" x2="334.6" y2="498.64" stroke="#333" stroke-width="0.55"/>
<line x1="333.6" y1="500.8" x2="334.6" y2="500.8" stroke="#333" stroke-width="0.55"/>
<line x1="333.0" y1="412.5" x2="333.0" y2="501.6" stroke="#222" stroke-width="1.6"/>
<line x1="332.4" y1="500.8" x2="389.4" y2="500.8" stroke="#222" stroke-width="1.6"/>
<line x1="330.2" y1="414.4" x2="333.0" y2="414.4" stroke="#333" stroke-width="0.8"/>
<text x="327.1" y="416.79999999999995" font-size="6.7" fill="#333" text-anchor="end" font-weight="normal" font-style="normal" textLength="7.0" lengthAdjust="spacingAndGlyphs" stroke="#333" stroke-width="0.06">40</text>
<line x1="330.2" y1="436.1" x2="333.0" y2="436.1" stroke="#333" stroke-width="0.8"/>
<text x="327.1" y="438.5" font-size="6.7" fill="#333" text-anchor="end" font-weight="normal" font-style="normal" textLength="7.0" lengthAdjust="spacingAndGlyphs" stroke="#333" stroke-width="0.06">30</text>
<line x1="330.2" y1="457.8" x2="333.0" y2="457.8" stroke="#333" stroke-width="0.8"/>
<text x="327.1" y="460.2" font-size="6.7" fill="#333" text-anchor="end" font-weight="normal" font-style="normal" textLength="7.0" lengthAdjust="spacingAndGlyphs" stroke="#333" stroke-width="0.06">20</text>
<line x1="330.2" y1="479.3" x2="333.0" y2="479.3" stroke="#333" stroke-width="0.8"/>
<text x="327.1" y="481.7" font-size="6.7" fill="#333" text-anchor="end" font-weight="normal" font-style="normal" textLength="7.0" lengthAdjust="spacingAndGlyphs" stroke="#333" stroke-width="0.06">10</text>
<line x1="330.2" y1="500.8" x2="333.0" y2="500.8" stroke="#333" stroke-width="0.8"/>
<text x="327.1" y="503.2" font-size="6.7" fill="#333" text-anchor="end" font-weight="normal" font-style="normal" textLength="3.8" lengthAdjust="spacingAndGlyphs" stroke="#333" stroke-width="0.06">0</text>
<text x="312.4" y="458.0" font-size="6.3" fill="#333" text-anchor="middle" font-weight="normal" font-style="normal" textLength="12.6" lengthAdjust="spacingAndGlyphs" stroke="#333" stroke-width="0.06" transform="rotate(-90 312.4 458.0)" dy="2.3">FPKM</text>
<rect x="339.0" y="452.0" width="9.699999999999989" height="48.80000000000001" fill="#174a8a"/>
<line x1="343.85" y1="448.4" x2="343.85" y2="452.0" stroke="#222" stroke-width="0.9"/>
<line x1="341.95000000000005" y1="448.4" x2="345.75" y2="448.4" stroke="#222" stroke-width="1.0"/>
<line x1="343.85" y1="500.8" x2="343.85" y2="503.40000000000003" stroke="#333" stroke-width="0.8"/>
<text x="347.45000000000005" y="511.6" font-size="7.4" fill="#333" text-anchor="end" font-weight="normal" font-style="normal" textLength="10.3" lengthAdjust="spacingAndGlyphs" stroke="#333" stroke-width="0.06" transform="rotate(-45 347.45000000000005 511.6)">Ctrl</text>
<rect x="356.3" y="430.4" width="9.699999999999989" height="70.40000000000003" fill="#cc0a2c"/>
<line x1="361.15" y1="428.6" x2="361.15" y2="430.4" stroke="#222" stroke-width="0.9"/>
<line x1="359.25" y1="428.6" x2="363.04999999999995" y2="428.6" stroke="#222" stroke-width="1.0"/>
<line x1="361.15" y1="500.8" x2="361.15" y2="503.40000000000003" stroke="#333" stroke-width="0.8"/>
<text x="364.75" y="510.40000000000003" font-size="7.4" fill="#333" text-anchor="end" font-weight="normal" font-style="normal" textLength="25.0" lengthAdjust="spacingAndGlyphs" stroke="#333" stroke-width="0.06" transform="rotate(-45 364.75 510.40000000000003)">KD MYB</text>
<rect x="374.0" y="468.7" width="9.699999999999989" height="32.10000000000002" fill="#3aa535"/>
<line x1="378.85" y1="463.2" x2="378.85" y2="468.7" stroke="#222" stroke-width="0.9"/>
<line x1="376.95000000000005" y1="463.2" x2="380.75" y2="463.2" stroke="#222" stroke-width="1.0"/>
<line x1="378.85" y1="500.8" x2="378.85" y2="503.40000000000003" stroke="#333" stroke-width="0.8"/>
<text x="380.55000000000007" y="509.8" font-size="7.4" fill="#333" text-anchor="end" font-weight="normal" font-style="normal" textLength="20.5" lengthAdjust="spacingAndGlyphs" stroke="#333" stroke-width="0.06" transform="rotate(-45 380.55000000000007 509.8)">Rescue</text>
<line x1="157.1" y1="556.8" x2="157.1" y2="681.4" stroke="#111" stroke-width="1.2"/>
<line x1="156.5" y1="680.7" x2="293" y2="680.7" stroke="#111" stroke-width="1.2"/>
<line x1="154.2" y1="680.5" x2="157" y2="680.5" stroke="#222" stroke-width="0.9"/>
<text x="150.8" y="682.8" font-size="6.5" fill="#333" text-anchor="end" font-weight="normal" font-style="normal" textLength="3.6" lengthAdjust="spacingAndGlyphs" stroke="#333" stroke-width="0.06">0</text>
<line x1="154.2" y1="667.112" x2="157" y2="667.112" stroke="#222" stroke-width="0.9"/>
<text x="150.8" y="669.4119999999999" font-size="6.5" fill="#333" text-anchor="end" font-weight="normal" font-style="normal" textLength="8.3" lengthAdjust="spacingAndGlyphs" stroke="#333" stroke-width="0.06">0.2</text>
<line x1="154.2" y1="653.724" x2="157" y2="653.724" stroke="#222" stroke-width="0.9"/>
<text x="150.8" y="656.024" font-size="6.5" fill="#333" text-anchor="end" font-weight="normal" font-style="normal" textLength="8.3" lengthAdjust="spacingAndGlyphs" stroke="#333" stroke-width="0.06">0.4</text>
<line x1="154.2" y1="640.336" x2="157" y2="640.336" stroke="#222" stroke-width="0.9"/>
<text x="150.8" y="642.636" font-size="6.5" fill="#333" text-anchor="end" font-weight="normal" font-style="normal" textLength="8.3" lengthAdjust="spacingAndGlyphs" stroke="#333" stroke-width="0.06">0.6</text>
<line x1="154.2" y1="626.948" x2="157" y2="626.948" stroke="#222" stroke-width="0.9"/>
<text x="150.8" y="629.2479999999999" font-size="6.5" fill="#333" text-anchor="end" font-weight="normal" font-style="normal" textLength="8.3" lengthAdjust="spacingAndGlyphs" stroke="#333" stroke-width="0.06">0.8</text>
<line x1="154.2" y1="613.56" x2="157" y2="613.56" stroke="#222" stroke-width="0.9"/>
<text x="150.8" y="615.8599999999999" font-size="6.5" fill="#333" text-anchor="end" font-weight="normal" font-style="normal" textLength="2.2" lengthAdjust="spacingAndGlyphs" stroke="#333" stroke-width="0.06">1</text>
<line x1="154.2" y1="600.172" x2="157" y2="600.172" stroke="#222" stroke-width="0.9"/>
<text x="150.8" y="602.472" font-size="6.5" fill="#333" text-anchor="end" font-weight="normal" font-style="normal" textLength="8.3" lengthAdjust="spacingAndGlyphs" stroke="#333" stroke-width="0.06">1.2</text>
<line x1="154.2" y1="586.784" x2="157" y2="586.784" stroke="#222" stroke-width="0.9"/>
<text x="150.8" y="589.084" font-size="6.5" fill="#333" text-anchor="end" font-weight="normal" font-style="normal" textLength="8.3" lengthAdjust="spacingAndGlyphs" stroke="#333" stroke-width="0.06">1.4</text>
<line x1="154.2" y1="573.396" x2="157" y2="573.396" stroke="#222" stroke-width="0.9"/>
<text x="150.8" y="575.6959999999999" font-size="6.5" fill="#333" text-anchor="end" font-weight="normal" font-style="normal" textLength="8.3" lengthAdjust="spacingAndGlyphs" stroke="#333" stroke-width="0.06">1.6</text>
<line x1="154.2" y1="560.008" x2="157" y2="560.008" stroke="#222" stroke-width="0.9"/>
<text x="150.8" y="562.308" font-size="6.5" fill="#333" text-anchor="end" font-weight="normal" font-style="normal" textLength="8.3" lengthAdjust="spacingAndGlyphs" stroke="#333" stroke-width="0.06">1.8</text>
<rect x="164" y="558.9" width="6.1" height="5.2" fill="#174a8a"/>
<text x="173.2" y="563.6" font-size="5.8" fill="#333" text-anchor="start" font-weight="normal" font-style="normal" textLength="19.0" lengthAdjust="spacingAndGlyphs" stroke="#333" stroke-width="0.06">Myb++</text>
<rect x="164" y="568.7" width="6.1" height="5.6" fill="#cc0a2c"/>
<text x="173.2" y="574.0" font-size="5.8" fill="#333" text-anchor="start" font-weight="normal" font-style="normal" textLength="19.0" lengthAdjust="spacingAndGlyphs" stroke="#333" stroke-width="0.06">Myb+F</text>
<rect x="174.2" y="613.7" width="14.700000000000017" height="66.79999999999995" fill="#174a8a"/>
<line x1="181.55" y1="597.5" x2="181.55" y2="613.7" stroke="#333" stroke-width="1.0"/>
<line x1="179.95000000000002" y1="597.5" x2="183.15" y2="597.5" stroke="#333" stroke-width="1.0"/>
<rect x="193.2" y="595.2" width="15.0" height="85.29999999999995" fill="#cc0a2c"/>
<line x1="200.7" y1="579.6" x2="200.7" y2="595.2" stroke="#333" stroke-width="1.0"/>
<line x1="199.1" y1="579.6" x2="202.29999999999998" y2="579.6" stroke="#333" stroke-width="1.0"/>
<rect x="241.6" y="613.7" width="15.000000000000028" height="66.79999999999995" fill="#174a8a"/>
<line x1="249.10000000000002" y1="601.3" x2="249.10000000000002" y2="613.7" stroke="#333" stroke-width="1.0"/>
<line x1="247.50000000000003" y1="601.3" x2="250.70000000000002" y2="601.3" stroke="#333" stroke-width="1.0"/>
<rect x="260.8" y="585.0" width="15.0" height="95.5" fill="#cc0a2c"/>
<line x1="268.3" y1="567.8" x2="268.3" y2="585.0" stroke="#333" stroke-width="1.0"/>
<line x1="266.7" y1="567.8" x2="269.90000000000003" y2="567.8" stroke="#333" stroke-width="1.0"/>
<line x1="246.5" y1="558.7" x2="268.7" y2="558.7" stroke="#222" stroke-width="1.0" stroke-dasharray="1.2 2.2 2.9 2.4 2.9 2.4 2.9 2.4 2.9"/>
<line x1="246.9" y1="559.5" x2="246.9" y2="566.2" stroke="#222" stroke-width="1.0" stroke-dasharray="1.4 1.9"/>
<line x1="268.3" y1="559.5" x2="268.3" y2="566.2" stroke="#222" stroke-width="1.0" stroke-dasharray="1.4 1.9"/>
<text x="257.3" y="557.5" font-size="6.0" fill="#333" text-anchor="middle" font-weight="normal" font-style="normal" stroke="#333" stroke-width="0.06">*</text>
<text x="184.7" y="689.6" font-size="6.7" fill="#333" text-anchor="start" font-weight="normal" font-style="normal" textLength="14.2" lengthAdjust="spacingAndGlyphs" stroke="#333" stroke-width="0.06">Rps8</text>
<text x="249.0" y="689.6" font-size="6.7" fill="#333" text-anchor="start" font-weight="normal" font-style="normal" textLength="19.3" lengthAdjust="spacingAndGlyphs" stroke="#333" stroke-width="0.06">Psmb3</text>
<text x="137.8" y="620.3" font-size="5.9" fill="#333" font-style="italic" text-anchor="middle" textLength="66.5" lengthAdjust="spacingAndGlyphs" transform="rotate(-90 137.8 620.3)">Relative expression (2<tspan font-size="4.6" dy="-2.8">-ΔΔCT</tspan><tspan dy="2.8">)</tspan></text>
</svg></body></html>
